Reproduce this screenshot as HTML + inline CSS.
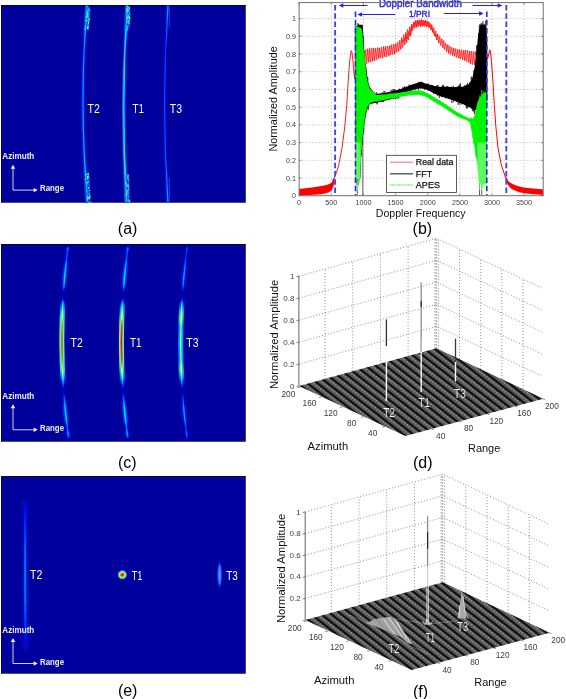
<!DOCTYPE html>
<html><head><meta charset="utf-8"><style>
html,body{margin:0;padding:0;background:#fff;}
svg{display:block;font-family:"Liberation Sans", sans-serif;will-change:transform;}
</style></head><body>
<svg width="566" height="699" viewBox="0 0 566 699">
<rect width="566" height="699" fill="#fff"/>
<defs><filter id="b1" x="-50%" y="-5%" width="200%" height="110%"><feGaussianBlur stdDeviation="0.6"/></filter><filter id="bs" x="-50%" y="-20%" width="200%" height="140%"><feGaussianBlur stdDeviation="0.4"/></filter><filter id="b2" x="-100%" y="-10%" width="300%" height="120%"><feGaussianBlur stdDeviation="1.2"/></filter><filter id="b3" x="-100%" y="-100%" width="300%" height="300%"><feGaussianBlur stdDeviation="1.0"/></filter><radialGradient id="spot"><stop offset="0" stop-color="#ff1000"/><stop offset="0.25" stop-color="#ff3000"/><stop offset="0.45" stop-color="#ffe000"/><stop offset="0.65" stop-color="#40ffb0"/><stop offset="0.85" stop-color="#0060ff"/><stop offset="1" stop-color="#0000a4" stop-opacity="0"/></radialGradient><radialGradient id="blob3"><stop offset="0" stop-color="#3aa0ff"/><stop offset="0.6" stop-color="#1040ff"/><stop offset="1" stop-color="#0000a4" stop-opacity="0"/></radialGradient><linearGradient id="e2" x1="0" y1="0" x2="0" y2="1"><stop offset="0" stop-color="#0010d0" stop-opacity="0"/><stop offset="0.15" stop-color="#1030f0"/><stop offset="0.5" stop-color="#2060ff"/><stop offset="0.8" stop-color="#1030e0"/><stop offset="1" stop-color="#0010d0" stop-opacity="0"/></linearGradient><linearGradient id="spR" x1="0" y1="0" x2="0" y2="1"><stop offset="0" stop-color="#0040ff"/><stop offset="0.12" stop-color="#00c0ff"/><stop offset="0.25" stop-color="#a0ff60"/><stop offset="0.35" stop-color="#ff8000"/><stop offset="0.5" stop-color="#e02000"/><stop offset="0.65" stop-color="#ff8000"/><stop offset="0.78" stop-color="#a0ff60"/><stop offset="0.9" stop-color="#00c0ff"/><stop offset="1" stop-color="#0040ff"/></linearGradient><linearGradient id="spG" x1="0" y1="0" x2="0" y2="1"><stop offset="0" stop-color="#0040ff"/><stop offset="0.2" stop-color="#00b0ff"/><stop offset="0.4" stop-color="#60ff90"/><stop offset="0.6" stop-color="#80ff70"/><stop offset="0.8" stop-color="#00b0ff"/><stop offset="1" stop-color="#0040ff"/></linearGradient><linearGradient id="seg" x1="0" y1="0" x2="0" y2="1"><stop offset="0" stop-color="#0030ff" stop-opacity="0.3"/><stop offset="0.5" stop-color="#1080ff"/><stop offset="1" stop-color="#0030ff" stop-opacity="0.3"/></linearGradient><pattern id="floor" patternUnits="userSpaceOnUse" width="12" height="6.2" patternTransform="rotate(38)"><rect width="12" height="6.2" fill="#0e0e0e"/><rect y="2.3" width="12" height="3.8" fill="#686868"/><rect x="0" y="2.8" width="1" height="1" fill="#b8b8b8"/><rect x="3" y="2.8" width="1" height="1" fill="#b8b8b8"/><rect x="6" y="2.8" width="1" height="1" fill="#b8b8b8"/><rect x="9" y="2.8" width="1" height="1" fill="#b8b8b8"/><rect x="1.5" y="4.4" width="1" height="1" fill="#262626"/><rect x="4.5" y="4.4" width="1" height="1" fill="#262626"/><rect x="7.5" y="4.4" width="1" height="1" fill="#262626"/><rect x="10.5" y="4.4" width="1" height="1" fill="#262626"/></pattern></defs>
<rect x="1" y="5" width="244.5" height="197.5" fill="#00009c"/>
<rect x="1" y="5" width="244.5" height="1" fill="#06063a"/>
<rect x="1" y="5" width="0.8" height="197.5" fill="#06064a"/>
<rect x="244.7" y="5" width="0.8" height="197.5" fill="#06064a"/>
<rect x="1" y="201.7" width="244.5" height="0.8" fill="#101050"/>
<linearGradient id="g1" gradientUnits="userSpaceOnUse" x1="0" y1="5.5" x2="0" y2="202"><stop offset="0.000" stop-color="#004bff" stop-opacity="0.90"/><stop offset="0.017" stop-color="#0047ff" stop-opacity="0.87"/><stop offset="0.033" stop-color="#0042ff" stop-opacity="0.84"/><stop offset="0.050" stop-color="#003dff" stop-opacity="0.81"/><stop offset="0.067" stop-color="#0039ff" stop-opacity="0.79"/><stop offset="0.083" stop-color="#0034ff" stop-opacity="0.76"/><stop offset="0.100" stop-color="#002fff" stop-opacity="0.73"/><stop offset="0.117" stop-color="#002bff" stop-opacity="0.70"/><stop offset="0.133" stop-color="#0026ff" stop-opacity="0.67"/><stop offset="0.150" stop-color="#0021ff" stop-opacity="0.65"/><stop offset="0.167" stop-color="#001cff" stop-opacity="0.62"/><stop offset="0.183" stop-color="#0017ff" stop-opacity="0.59"/><stop offset="0.200" stop-color="#0012ff" stop-opacity="0.56"/><stop offset="0.217" stop-color="#000dff" stop-opacity="0.53"/><stop offset="0.233" stop-color="#000bff" stop-opacity="0.52"/><stop offset="0.250" stop-color="#000dff" stop-opacity="0.53"/><stop offset="0.267" stop-color="#0010ff" stop-opacity="0.55"/><stop offset="0.283" stop-color="#0012ff" stop-opacity="0.56"/><stop offset="0.300" stop-color="#0015ff" stop-opacity="0.58"/><stop offset="0.317" stop-color="#0017ff" stop-opacity="0.59"/><stop offset="0.333" stop-color="#0019ff" stop-opacity="0.60"/><stop offset="0.350" stop-color="#0019ff" stop-opacity="0.60"/><stop offset="0.367" stop-color="#0019ff" stop-opacity="0.60"/><stop offset="0.383" stop-color="#0019ff" stop-opacity="0.60"/><stop offset="0.400" stop-color="#0019ff" stop-opacity="0.60"/><stop offset="0.417" stop-color="#0019ff" stop-opacity="0.60"/><stop offset="0.433" stop-color="#0019ff" stop-opacity="0.60"/><stop offset="0.450" stop-color="#0019ff" stop-opacity="0.60"/><stop offset="0.467" stop-color="#0019ff" stop-opacity="0.60"/><stop offset="0.483" stop-color="#0019ff" stop-opacity="0.60"/><stop offset="0.500" stop-color="#0019ff" stop-opacity="0.60"/><stop offset="0.517" stop-color="#0019ff" stop-opacity="0.60"/><stop offset="0.533" stop-color="#001aff" stop-opacity="0.60"/><stop offset="0.550" stop-color="#001aff" stop-opacity="0.61"/><stop offset="0.567" stop-color="#001bff" stop-opacity="0.61"/><stop offset="0.583" stop-color="#001bff" stop-opacity="0.61"/><stop offset="0.600" stop-color="#001bff" stop-opacity="0.61"/><stop offset="0.617" stop-color="#001cff" stop-opacity="0.62"/><stop offset="0.633" stop-color="#001cff" stop-opacity="0.62"/><stop offset="0.650" stop-color="#001cff" stop-opacity="0.62"/><stop offset="0.667" stop-color="#001dff" stop-opacity="0.62"/><stop offset="0.683" stop-color="#001dff" stop-opacity="0.62"/><stop offset="0.700" stop-color="#001dff" stop-opacity="0.63"/><stop offset="0.717" stop-color="#001eff" stop-opacity="0.63"/><stop offset="0.733" stop-color="#001eff" stop-opacity="0.63"/><stop offset="0.750" stop-color="#0020ff" stop-opacity="0.64"/><stop offset="0.767" stop-color="#0023ff" stop-opacity="0.66"/><stop offset="0.783" stop-color="#0026ff" stop-opacity="0.68"/><stop offset="0.800" stop-color="#0028ff" stop-opacity="0.69"/><stop offset="0.817" stop-color="#002bff" stop-opacity="0.71"/><stop offset="0.833" stop-color="#002eff" stop-opacity="0.72"/><stop offset="0.850" stop-color="#0030ff" stop-opacity="0.74"/><stop offset="0.867" stop-color="#0033ff" stop-opacity="0.75"/><stop offset="0.883" stop-color="#0036ff" stop-opacity="0.77"/><stop offset="0.900" stop-color="#0039ff" stop-opacity="0.79"/><stop offset="0.917" stop-color="#003dff" stop-opacity="0.81"/><stop offset="0.933" stop-color="#0040ff" stop-opacity="0.83"/><stop offset="0.950" stop-color="#0043ff" stop-opacity="0.85"/><stop offset="0.967" stop-color="#0046ff" stop-opacity="0.86"/><stop offset="0.983" stop-color="#0049ff" stop-opacity="0.88"/><stop offset="1.000" stop-color="#004cff" stop-opacity="0.90"/></linearGradient>
<linearGradient id="g2" gradientUnits="userSpaceOnUse" x1="0" y1="5.5" x2="0" y2="202"><stop offset="0.000" stop-color="#18ffe6" stop-opacity="1.00"/><stop offset="0.017" stop-color="#0efff0" stop-opacity="1.00"/><stop offset="0.033" stop-color="#05fff9" stop-opacity="1.00"/><stop offset="0.050" stop-color="#00fbff" stop-opacity="1.00"/><stop offset="0.067" stop-color="#00f1ff" stop-opacity="1.00"/><stop offset="0.083" stop-color="#00e8ff" stop-opacity="1.00"/><stop offset="0.100" stop-color="#00deff" stop-opacity="1.00"/><stop offset="0.117" stop-color="#00d5ff" stop-opacity="1.00"/><stop offset="0.133" stop-color="#00cbff" stop-opacity="1.00"/><stop offset="0.150" stop-color="#00c1ff" stop-opacity="1.00"/><stop offset="0.167" stop-color="#00b7ff" stop-opacity="1.00"/><stop offset="0.183" stop-color="#00adff" stop-opacity="1.00"/><stop offset="0.200" stop-color="#00a3ff" stop-opacity="1.00"/><stop offset="0.217" stop-color="#0099ff" stop-opacity="1.00"/><stop offset="0.233" stop-color="#0095ff" stop-opacity="1.00"/><stop offset="0.250" stop-color="#009aff" stop-opacity="1.00"/><stop offset="0.267" stop-color="#009fff" stop-opacity="1.00"/><stop offset="0.283" stop-color="#00a4ff" stop-opacity="1.00"/><stop offset="0.300" stop-color="#00aaff" stop-opacity="1.00"/><stop offset="0.317" stop-color="#00afff" stop-opacity="1.00"/><stop offset="0.333" stop-color="#00b2ff" stop-opacity="1.00"/><stop offset="0.350" stop-color="#00b2ff" stop-opacity="1.00"/><stop offset="0.367" stop-color="#00b2ff" stop-opacity="1.00"/><stop offset="0.383" stop-color="#00b2ff" stop-opacity="1.00"/><stop offset="0.400" stop-color="#00b2ff" stop-opacity="1.00"/><stop offset="0.417" stop-color="#00b2ff" stop-opacity="1.00"/><stop offset="0.433" stop-color="#00b2ff" stop-opacity="1.00"/><stop offset="0.450" stop-color="#00b2ff" stop-opacity="1.00"/><stop offset="0.467" stop-color="#00b2ff" stop-opacity="1.00"/><stop offset="0.483" stop-color="#00b2ff" stop-opacity="1.00"/><stop offset="0.500" stop-color="#00b2ff" stop-opacity="1.00"/><stop offset="0.517" stop-color="#00b3ff" stop-opacity="1.00"/><stop offset="0.533" stop-color="#00b4ff" stop-opacity="1.00"/><stop offset="0.550" stop-color="#00b4ff" stop-opacity="1.00"/><stop offset="0.567" stop-color="#00b5ff" stop-opacity="1.00"/><stop offset="0.583" stop-color="#00b6ff" stop-opacity="1.00"/><stop offset="0.600" stop-color="#00b6ff" stop-opacity="1.00"/><stop offset="0.617" stop-color="#00b7ff" stop-opacity="1.00"/><stop offset="0.633" stop-color="#00b8ff" stop-opacity="1.00"/><stop offset="0.650" stop-color="#00b9ff" stop-opacity="1.00"/><stop offset="0.667" stop-color="#00b9ff" stop-opacity="1.00"/><stop offset="0.683" stop-color="#00baff" stop-opacity="1.00"/><stop offset="0.700" stop-color="#00bbff" stop-opacity="1.00"/><stop offset="0.717" stop-color="#00bbff" stop-opacity="1.00"/><stop offset="0.733" stop-color="#00bcff" stop-opacity="1.00"/><stop offset="0.750" stop-color="#00c1ff" stop-opacity="1.00"/><stop offset="0.767" stop-color="#00c6ff" stop-opacity="1.00"/><stop offset="0.783" stop-color="#00ccff" stop-opacity="1.00"/><stop offset="0.800" stop-color="#00d1ff" stop-opacity="1.00"/><stop offset="0.817" stop-color="#00d6ff" stop-opacity="1.00"/><stop offset="0.833" stop-color="#00dcff" stop-opacity="1.00"/><stop offset="0.850" stop-color="#00e1ff" stop-opacity="1.00"/><stop offset="0.867" stop-color="#00e7ff" stop-opacity="1.00"/><stop offset="0.883" stop-color="#00edff" stop-opacity="1.00"/><stop offset="0.900" stop-color="#00f3ff" stop-opacity="1.00"/><stop offset="0.917" stop-color="#00f9ff" stop-opacity="1.00"/><stop offset="0.933" stop-color="#00fffe" stop-opacity="1.00"/><stop offset="0.950" stop-color="#06fff8" stop-opacity="1.00"/><stop offset="0.967" stop-color="#0dfff1" stop-opacity="1.00"/><stop offset="0.983" stop-color="#13ffeb" stop-opacity="1.00"/><stop offset="1.000" stop-color="#19ffe5" stop-opacity="1.00"/></linearGradient>
<path d="M87.1 5.5 Q78.65 103.75 87.6 202" stroke="url(#g1)" stroke-width="4.2" fill="none" filter="url(#b1)"/>
<path d="M87.1 5.5 Q78.65 103.75 87.6 202" stroke="url(#g2)" stroke-width="1.1" fill="none"/>
<path d="M89.3 8 L88.4 28" stroke="#10a0ff" stroke-width="1.1" opacity="0.8" filter="url(#b1)"/>
<path d="M88.7 178 L89.8 200" stroke="#10a0ff" stroke-width="1.1" opacity="0.8" filter="url(#b1)"/>
<g filter="url(#bs)">
<ellipse cx="87.1" cy="18.0" rx="3" ry="12.0" fill="#0a50ff" opacity="0.45"/>
<rect x="88.7" y="18.3" width="1.1" height="2.4" fill="#40ff90"/>
<rect x="87.1" y="13.5" width="1.1" height="2.2" fill="#70ffa0"/>
<rect x="87.3" y="15.8" width="1.1" height="2.1" fill="#40ff90"/>
<rect x="86.3" y="18.9" width="1.1" height="2.2" fill="#40ff90"/>
<rect x="87.2" y="13.3" width="1.1" height="1.6" fill="#20a0ff"/>
<rect x="86.6" y="10.9" width="1.1" height="2.1" fill="#40ff90"/>
<rect x="87.3" y="12.7" width="1.1" height="2.4" fill="#40ff90"/>
<rect x="86.8" y="23.4" width="1.1" height="1.4" fill="#20a0ff"/>
<rect x="89.4" y="9.9" width="1.1" height="1.2" fill="#30e0ff"/>
<rect x="87.8" y="21.0" width="1.1" height="1.9" fill="#00c0ff"/>
<rect x="84.5" y="28.0" width="1.1" height="1.7" fill="#20ffc0"/>
<rect x="88.4" y="7.5" width="1.1" height="2.3" fill="#00c0ff"/>
<rect x="85.9" y="20.2" width="1.1" height="1.8" fill="#30e0ff"/>
<rect x="87.9" y="18.3" width="1.1" height="1.2" fill="#20ffc0"/>
<rect x="87.1" y="25.7" width="1.1" height="1.3" fill="#20ffc0"/>
<rect x="85.3" y="25.3" width="1.1" height="1.1" fill="#20ffc0"/>
<rect x="87.8" y="26.5" width="1.1" height="1.7" fill="#20ffc0"/>
<rect x="85.5" y="12.6" width="1.1" height="2.0" fill="#20a0ff"/>
<rect x="87.9" y="23.3" width="1.1" height="1.3" fill="#20a0ff"/>
<rect x="87.9" y="21.3" width="1.1" height="2.4" fill="#70ffa0"/>
<rect x="87.6" y="9.6" width="1.1" height="1.6" fill="#30e0ff"/>
<rect x="85.0" y="20.1" width="1.1" height="2.0" fill="#20a0ff"/>
<rect x="87.5" y="28.1" width="1.1" height="2.0" fill="#00c0ff"/>
<rect x="88.5" y="11.9" width="1.1" height="1.3" fill="#20a0ff"/>
<rect x="84.8" y="26.0" width="1.1" height="1.2" fill="#20ffc0"/>
<rect x="86.5" y="15.0" width="1.1" height="2.0" fill="#20ffc0"/>
<rect x="87.2" y="10.3" width="1.1" height="1.4" fill="#00c0ff"/>
<rect x="85.6" y="16.1" width="1.1" height="1.9" fill="#40ff90"/>
<rect x="88.1" y="15.1" width="1.1" height="1.6" fill="#00c0ff"/>
<rect x="86.9" y="26.8" width="1.1" height="2.2" fill="#80ff70"/>
</g>
<g filter="url(#bs)">
<ellipse cx="87.3" cy="187.0" rx="3" ry="15.0" fill="#0a50ff" opacity="0.45"/>
<rect x="86.4" y="175.9" width="1.1" height="1.0" fill="#80ff70"/>
<rect x="88.1" y="176.4" width="1.1" height="1.1" fill="#80ff70"/>
<rect x="88.1" y="175.9" width="1.1" height="1.6" fill="#20a0ff"/>
<rect x="87.9" y="187.3" width="1.1" height="1.4" fill="#80ff70"/>
<rect x="87.5" y="176.1" width="1.1" height="1.8" fill="#70ffa0"/>
<rect x="88.2" y="196.5" width="1.1" height="2.5" fill="#80ff70"/>
<rect x="86.8" y="178.1" width="1.1" height="1.5" fill="#20ffc0"/>
<rect x="86.4" y="189.7" width="1.1" height="2.2" fill="#00c0ff"/>
<rect x="86.7" y="198.0" width="1.1" height="1.4" fill="#20ffc0"/>
<rect x="87.8" y="174.5" width="1.1" height="1.6" fill="#00c0ff"/>
<rect x="87.1" y="176.4" width="1.1" height="2.4" fill="#40ff90"/>
<rect x="84.8" y="178.5" width="1.1" height="1.3" fill="#70ffa0"/>
<rect x="86.8" y="182.4" width="1.1" height="2.0" fill="#30e0ff"/>
<rect x="85.0" y="182.2" width="1.1" height="1.2" fill="#20a0ff"/>
<rect x="88.3" y="201.9" width="1.1" height="1.1" fill="#20ffc0"/>
<rect x="87.6" y="173.0" width="1.1" height="1.9" fill="#80ff70"/>
<rect x="86.1" y="181.3" width="1.1" height="1.3" fill="#30e0ff"/>
<rect x="87.5" y="172.7" width="1.1" height="1.7" fill="#40ff90"/>
<rect x="87.3" y="175.8" width="1.1" height="1.1" fill="#20a0ff"/>
<rect x="89.0" y="190.0" width="1.1" height="1.0" fill="#70ffa0"/>
<rect x="86.8" y="196.2" width="1.1" height="1.0" fill="#80ff70"/>
<rect x="87.6" y="180.8" width="1.1" height="1.7" fill="#40ff90"/>
<rect x="87.0" y="197.6" width="1.1" height="1.4" fill="#70ffa0"/>
<rect x="90.1" y="201.3" width="1.1" height="1.5" fill="#30e0ff"/>
<rect x="86.4" y="185.1" width="1.1" height="1.1" fill="#20a0ff"/>
<rect x="85.9" y="174.0" width="1.1" height="1.4" fill="#20ffc0"/>
<rect x="89.0" y="197.4" width="1.1" height="2.0" fill="#30e0ff"/>
<rect x="88.8" y="192.8" width="1.1" height="2.4" fill="#00c0ff"/>
<rect x="86.9" y="176.5" width="1.1" height="1.7" fill="#70ffa0"/>
<rect x="89.4" y="195.6" width="1.1" height="2.1" fill="#70ffa0"/>
</g>
<linearGradient id="g3" gradientUnits="userSpaceOnUse" x1="0" y1="5.5" x2="0" y2="202"><stop offset="0.000" stop-color="#0065ff" stop-opacity="1.00"/><stop offset="0.017" stop-color="#0060ff" stop-opacity="1.00"/><stop offset="0.033" stop-color="#005bff" stop-opacity="0.99"/><stop offset="0.050" stop-color="#0057ff" stop-opacity="0.96"/><stop offset="0.067" stop-color="#0052ff" stop-opacity="0.94"/><stop offset="0.083" stop-color="#004dff" stop-opacity="0.91"/><stop offset="0.100" stop-color="#0049ff" stop-opacity="0.88"/><stop offset="0.117" stop-color="#0044ff" stop-opacity="0.85"/><stop offset="0.133" stop-color="#003fff" stop-opacity="0.82"/><stop offset="0.150" stop-color="#003aff" stop-opacity="0.80"/><stop offset="0.167" stop-color="#0035ff" stop-opacity="0.77"/><stop offset="0.183" stop-color="#0030ff" stop-opacity="0.74"/><stop offset="0.200" stop-color="#002bff" stop-opacity="0.71"/><stop offset="0.217" stop-color="#0026ff" stop-opacity="0.68"/><stop offset="0.233" stop-color="#0024ff" stop-opacity="0.67"/><stop offset="0.250" stop-color="#0027ff" stop-opacity="0.68"/><stop offset="0.267" stop-color="#0029ff" stop-opacity="0.70"/><stop offset="0.283" stop-color="#002cff" stop-opacity="0.71"/><stop offset="0.300" stop-color="#002eff" stop-opacity="0.73"/><stop offset="0.317" stop-color="#0031ff" stop-opacity="0.74"/><stop offset="0.333" stop-color="#0032ff" stop-opacity="0.75"/><stop offset="0.350" stop-color="#0032ff" stop-opacity="0.75"/><stop offset="0.367" stop-color="#0032ff" stop-opacity="0.75"/><stop offset="0.383" stop-color="#0032ff" stop-opacity="0.75"/><stop offset="0.400" stop-color="#0032ff" stop-opacity="0.75"/><stop offset="0.417" stop-color="#0032ff" stop-opacity="0.75"/><stop offset="0.433" stop-color="#0032ff" stop-opacity="0.75"/><stop offset="0.450" stop-color="#0032ff" stop-opacity="0.75"/><stop offset="0.467" stop-color="#0032ff" stop-opacity="0.75"/><stop offset="0.483" stop-color="#0032ff" stop-opacity="0.75"/><stop offset="0.500" stop-color="#0033ff" stop-opacity="0.75"/><stop offset="0.517" stop-color="#0033ff" stop-opacity="0.75"/><stop offset="0.533" stop-color="#0033ff" stop-opacity="0.75"/><stop offset="0.550" stop-color="#0034ff" stop-opacity="0.76"/><stop offset="0.567" stop-color="#0034ff" stop-opacity="0.76"/><stop offset="0.583" stop-color="#0034ff" stop-opacity="0.76"/><stop offset="0.600" stop-color="#0035ff" stop-opacity="0.76"/><stop offset="0.617" stop-color="#0035ff" stop-opacity="0.77"/><stop offset="0.633" stop-color="#0035ff" stop-opacity="0.77"/><stop offset="0.650" stop-color="#0036ff" stop-opacity="0.77"/><stop offset="0.667" stop-color="#0036ff" stop-opacity="0.77"/><stop offset="0.683" stop-color="#0036ff" stop-opacity="0.77"/><stop offset="0.700" stop-color="#0037ff" stop-opacity="0.78"/><stop offset="0.717" stop-color="#0037ff" stop-opacity="0.78"/><stop offset="0.733" stop-color="#0038ff" stop-opacity="0.78"/><stop offset="0.750" stop-color="#003aff" stop-opacity="0.79"/><stop offset="0.767" stop-color="#003dff" stop-opacity="0.81"/><stop offset="0.783" stop-color="#003fff" stop-opacity="0.83"/><stop offset="0.800" stop-color="#0042ff" stop-opacity="0.84"/><stop offset="0.817" stop-color="#0045ff" stop-opacity="0.86"/><stop offset="0.833" stop-color="#0047ff" stop-opacity="0.87"/><stop offset="0.850" stop-color="#004aff" stop-opacity="0.89"/><stop offset="0.867" stop-color="#004dff" stop-opacity="0.90"/><stop offset="0.883" stop-color="#0050ff" stop-opacity="0.92"/><stop offset="0.900" stop-color="#0053ff" stop-opacity="0.94"/><stop offset="0.917" stop-color="#0056ff" stop-opacity="0.96"/><stop offset="0.933" stop-color="#0059ff" stop-opacity="0.98"/><stop offset="0.950" stop-color="#005cff" stop-opacity="1.00"/><stop offset="0.967" stop-color="#005fff" stop-opacity="1.00"/><stop offset="0.983" stop-color="#0062ff" stop-opacity="1.00"/><stop offset="1.000" stop-color="#0065ff" stop-opacity="1.00"/></linearGradient>
<linearGradient id="g4" gradientUnits="userSpaceOnUse" x1="0" y1="5.5" x2="0" y2="202"><stop offset="0.000" stop-color="#4bffb3" stop-opacity="1.00"/><stop offset="0.017" stop-color="#41ffbd" stop-opacity="1.00"/><stop offset="0.033" stop-color="#38ffc6" stop-opacity="1.00"/><stop offset="0.050" stop-color="#2fffcf" stop-opacity="1.00"/><stop offset="0.067" stop-color="#25ffd9" stop-opacity="1.00"/><stop offset="0.083" stop-color="#1cffe2" stop-opacity="1.00"/><stop offset="0.100" stop-color="#12ffec" stop-opacity="1.00"/><stop offset="0.117" stop-color="#09fff5" stop-opacity="1.00"/><stop offset="0.133" stop-color="#00feff" stop-opacity="1.00"/><stop offset="0.150" stop-color="#00f4ff" stop-opacity="1.00"/><stop offset="0.167" stop-color="#00eaff" stop-opacity="1.00"/><stop offset="0.183" stop-color="#00e0ff" stop-opacity="1.00"/><stop offset="0.200" stop-color="#00d6ff" stop-opacity="1.00"/><stop offset="0.217" stop-color="#00ccff" stop-opacity="1.00"/><stop offset="0.233" stop-color="#00c8ff" stop-opacity="1.00"/><stop offset="0.250" stop-color="#00cdff" stop-opacity="1.00"/><stop offset="0.267" stop-color="#00d2ff" stop-opacity="1.00"/><stop offset="0.283" stop-color="#00d7ff" stop-opacity="1.00"/><stop offset="0.300" stop-color="#00ddff" stop-opacity="1.00"/><stop offset="0.317" stop-color="#00e2ff" stop-opacity="1.00"/><stop offset="0.333" stop-color="#00e5ff" stop-opacity="1.00"/><stop offset="0.350" stop-color="#00e5ff" stop-opacity="1.00"/><stop offset="0.367" stop-color="#00e5ff" stop-opacity="1.00"/><stop offset="0.383" stop-color="#00e5ff" stop-opacity="1.00"/><stop offset="0.400" stop-color="#00e5ff" stop-opacity="1.00"/><stop offset="0.417" stop-color="#00e5ff" stop-opacity="1.00"/><stop offset="0.433" stop-color="#00e5ff" stop-opacity="1.00"/><stop offset="0.450" stop-color="#00e5ff" stop-opacity="1.00"/><stop offset="0.467" stop-color="#00e5ff" stop-opacity="1.00"/><stop offset="0.483" stop-color="#00e5ff" stop-opacity="1.00"/><stop offset="0.500" stop-color="#00e5ff" stop-opacity="1.00"/><stop offset="0.517" stop-color="#00e6ff" stop-opacity="1.00"/><stop offset="0.533" stop-color="#00e7ff" stop-opacity="1.00"/><stop offset="0.550" stop-color="#00e7ff" stop-opacity="1.00"/><stop offset="0.567" stop-color="#00e8ff" stop-opacity="1.00"/><stop offset="0.583" stop-color="#00e9ff" stop-opacity="1.00"/><stop offset="0.600" stop-color="#00e9ff" stop-opacity="1.00"/><stop offset="0.617" stop-color="#00eaff" stop-opacity="1.00"/><stop offset="0.633" stop-color="#00ebff" stop-opacity="1.00"/><stop offset="0.650" stop-color="#00ecff" stop-opacity="1.00"/><stop offset="0.667" stop-color="#00ecff" stop-opacity="1.00"/><stop offset="0.683" stop-color="#00edff" stop-opacity="1.00"/><stop offset="0.700" stop-color="#00eeff" stop-opacity="1.00"/><stop offset="0.717" stop-color="#00eeff" stop-opacity="1.00"/><stop offset="0.733" stop-color="#00efff" stop-opacity="1.00"/><stop offset="0.750" stop-color="#00f4ff" stop-opacity="1.00"/><stop offset="0.767" stop-color="#00f9ff" stop-opacity="1.00"/><stop offset="0.783" stop-color="#00fffe" stop-opacity="1.00"/><stop offset="0.800" stop-color="#05fff9" stop-opacity="1.00"/><stop offset="0.817" stop-color="#0afff4" stop-opacity="1.00"/><stop offset="0.833" stop-color="#10ffee" stop-opacity="1.00"/><stop offset="0.850" stop-color="#15ffe9" stop-opacity="1.00"/><stop offset="0.867" stop-color="#1bffe3" stop-opacity="1.00"/><stop offset="0.883" stop-color="#21ffdd" stop-opacity="1.00"/><stop offset="0.900" stop-color="#27ffd7" stop-opacity="1.00"/><stop offset="0.917" stop-color="#2dffd1" stop-opacity="1.00"/><stop offset="0.933" stop-color="#33ffcb" stop-opacity="1.00"/><stop offset="0.950" stop-color="#39ffc5" stop-opacity="1.00"/><stop offset="0.967" stop-color="#40ffbe" stop-opacity="1.00"/><stop offset="0.983" stop-color="#46ffb8" stop-opacity="1.00"/><stop offset="1.000" stop-color="#4cffb2" stop-opacity="1.00"/></linearGradient>
<path d="M127.3 5.5 Q120.65 103.75 126.6 202" stroke="url(#g3)" stroke-width="4.2" fill="none" filter="url(#b1)"/>
<path d="M127.3 5.5 Q120.65 103.75 126.6 202" stroke="url(#g4)" stroke-width="1.3" fill="none"/>
<path d="M129.5 8 L128.9 28" stroke="#10a0ff" stroke-width="1.1" opacity="0.8" filter="url(#b1)"/>
<path d="M128.3 178 L128.79999999999998 200" stroke="#10a0ff" stroke-width="1.1" opacity="0.8" filter="url(#b1)"/>
<g filter="url(#bs)">
<ellipse cx="127.5" cy="18.0" rx="3" ry="12.0" fill="#0a50ff" opacity="0.45"/>
<rect x="127.0" y="12.3" width="1.1" height="1.1" fill="#30e0ff"/>
<rect x="128.1" y="20.4" width="1.1" height="1.3" fill="#20ffc0"/>
<rect x="127.2" y="7.3" width="1.1" height="1.8" fill="#70ffa0"/>
<rect x="127.7" y="9.6" width="1.1" height="2.0" fill="#80ff70"/>
<rect x="128.0" y="16.1" width="1.1" height="2.0" fill="#20a0ff"/>
<rect x="126.4" y="15.4" width="1.1" height="1.5" fill="#20a0ff"/>
<rect x="128.9" y="18.3" width="1.1" height="1.5" fill="#20a0ff"/>
<rect x="126.7" y="28.2" width="1.1" height="2.0" fill="#20ffc0"/>
<rect x="126.5" y="8.6" width="1.1" height="2.3" fill="#20a0ff"/>
<rect x="128.5" y="22.3" width="1.1" height="2.0" fill="#70ffa0"/>
<rect x="127.6" y="15.8" width="1.1" height="2.3" fill="#20ffc0"/>
<rect x="129.0" y="16.5" width="1.1" height="1.9" fill="#80ff70"/>
<rect x="126.9" y="25.9" width="1.1" height="1.5" fill="#40ff90"/>
<rect x="126.3" y="18.5" width="1.1" height="1.2" fill="#80ff70"/>
<rect x="128.9" y="6.9" width="1.1" height="2.3" fill="#80ff70"/>
<rect x="126.5" y="26.0" width="1.1" height="2.5" fill="#00c0ff"/>
<rect x="128.3" y="20.2" width="1.1" height="1.3" fill="#20ffc0"/>
<rect x="126.7" y="10.1" width="1.1" height="1.9" fill="#30e0ff"/>
<rect x="126.2" y="8.7" width="1.1" height="1.1" fill="#20ffc0"/>
<rect x="127.4" y="16.8" width="1.1" height="1.9" fill="#20ffc0"/>
<rect x="129.1" y="18.1" width="1.1" height="1.9" fill="#20ffc0"/>
<rect x="127.3" y="20.8" width="1.1" height="2.4" fill="#20ffc0"/>
<rect x="128.5" y="11.4" width="1.1" height="1.1" fill="#20a0ff"/>
<rect x="129.3" y="13.1" width="1.1" height="2.2" fill="#00c0ff"/>
<rect x="127.4" y="6.3" width="1.1" height="2.2" fill="#00c0ff"/>
<rect x="126.3" y="8.6" width="1.1" height="2.5" fill="#40ff90"/>
<rect x="126.8" y="16.7" width="1.1" height="1.6" fill="#70ffa0"/>
<rect x="127.7" y="14.8" width="1.1" height="1.0" fill="#40ff90"/>
<rect x="126.8" y="9.6" width="1.1" height="1.5" fill="#20ffc0"/>
<rect x="126.4" y="20.7" width="1.1" height="2.4" fill="#00c0ff"/>
</g>
<g filter="url(#bs)">
<ellipse cx="126.8" cy="187.0" rx="3" ry="15.0" fill="#0a50ff" opacity="0.45"/>
<rect x="128.0" y="179.5" width="1.1" height="1.3" fill="#40ff90"/>
<rect x="125.4" y="182.5" width="1.1" height="2.0" fill="#70ffa0"/>
<rect x="127.6" y="175.5" width="1.1" height="1.0" fill="#30e0ff"/>
<rect x="125.2" y="188.2" width="1.1" height="1.4" fill="#20a0ff"/>
<rect x="126.4" y="184.5" width="1.1" height="2.4" fill="#20ffc0"/>
<rect x="125.1" y="179.8" width="1.1" height="2.0" fill="#00c0ff"/>
<rect x="129.0" y="200.4" width="1.1" height="1.1" fill="#20a0ff"/>
<rect x="128.0" y="200.1" width="1.1" height="2.3" fill="#20a0ff"/>
<rect x="125.5" y="184.2" width="1.1" height="2.0" fill="#20a0ff"/>
<rect x="126.0" y="195.4" width="1.1" height="1.2" fill="#20ffc0"/>
<rect x="125.3" y="194.9" width="1.1" height="1.2" fill="#70ffa0"/>
<rect x="126.5" y="190.0" width="1.1" height="1.5" fill="#20a0ff"/>
<rect x="127.3" y="177.1" width="1.1" height="2.1" fill="#80ff70"/>
<rect x="127.6" y="190.0" width="1.1" height="1.8" fill="#20a0ff"/>
<rect x="128.3" y="188.7" width="1.1" height="1.3" fill="#20ffc0"/>
<rect x="129.1" y="200.4" width="1.1" height="1.7" fill="#70ffa0"/>
<rect x="128.1" y="196.0" width="1.1" height="1.1" fill="#00c0ff"/>
<rect x="127.3" y="198.9" width="1.1" height="1.7" fill="#20a0ff"/>
<rect x="127.4" y="192.6" width="1.1" height="1.4" fill="#30e0ff"/>
<rect x="128.6" y="199.6" width="1.1" height="1.2" fill="#00c0ff"/>
<rect x="127.5" y="184.1" width="1.1" height="2.4" fill="#30e0ff"/>
<rect x="127.8" y="179.2" width="1.1" height="2.0" fill="#20a0ff"/>
<rect x="125.0" y="174.0" width="1.1" height="1.1" fill="#40ff90"/>
<rect x="126.2" y="192.6" width="1.1" height="2.0" fill="#70ffa0"/>
<rect x="127.5" y="174.5" width="1.1" height="2.2" fill="#70ffa0"/>
<rect x="126.7" y="190.2" width="1.1" height="1.3" fill="#80ff70"/>
<rect x="126.0" y="200.3" width="1.1" height="1.2" fill="#00c0ff"/>
<rect x="126.9" y="175.3" width="1.1" height="2.3" fill="#00c0ff"/>
<rect x="127.7" y="185.8" width="1.1" height="1.8" fill="#70ffa0"/>
<rect x="126.3" y="195.3" width="1.1" height="1.2" fill="#20a0ff"/>
</g>
<linearGradient id="g5" gradientUnits="userSpaceOnUse" x1="0" y1="5.5" x2="0" y2="202"><stop offset="0.000" stop-color="#0028ff" stop-opacity="0.69"/><stop offset="0.017" stop-color="#0023ff" stop-opacity="0.66"/><stop offset="0.033" stop-color="#001eff" stop-opacity="0.63"/><stop offset="0.050" stop-color="#001aff" stop-opacity="0.60"/><stop offset="0.067" stop-color="#0015ff" stop-opacity="0.58"/><stop offset="0.083" stop-color="#0010ff" stop-opacity="0.55"/><stop offset="0.100" stop-color="#000cff" stop-opacity="0.52"/><stop offset="0.117" stop-color="#0007ff" stop-opacity="0.49"/><stop offset="0.133" stop-color="#0002ff" stop-opacity="0.46"/><stop offset="0.150" stop-color="#0000fc" stop-opacity="0.44"/><stop offset="0.167" stop-color="#0000f7" stop-opacity="0.41"/><stop offset="0.183" stop-color="#0000f2" stop-opacity="0.38"/><stop offset="0.200" stop-color="#0000ed" stop-opacity="0.35"/><stop offset="0.217" stop-color="#0000e8" stop-opacity="0.32"/><stop offset="0.233" stop-color="#0000e6" stop-opacity="0.31"/><stop offset="0.250" stop-color="#0000e9" stop-opacity="0.32"/><stop offset="0.267" stop-color="#0000eb" stop-opacity="0.34"/><stop offset="0.283" stop-color="#0000ee" stop-opacity="0.35"/><stop offset="0.300" stop-color="#0000f0" stop-opacity="0.37"/><stop offset="0.317" stop-color="#0000f3" stop-opacity="0.38"/><stop offset="0.333" stop-color="#0000f4" stop-opacity="0.39"/><stop offset="0.350" stop-color="#0000f4" stop-opacity="0.39"/><stop offset="0.367" stop-color="#0000f4" stop-opacity="0.39"/><stop offset="0.383" stop-color="#0000f4" stop-opacity="0.39"/><stop offset="0.400" stop-color="#0000f4" stop-opacity="0.39"/><stop offset="0.417" stop-color="#0000f4" stop-opacity="0.39"/><stop offset="0.433" stop-color="#0000f4" stop-opacity="0.39"/><stop offset="0.450" stop-color="#0000f4" stop-opacity="0.39"/><stop offset="0.467" stop-color="#0000f4" stop-opacity="0.39"/><stop offset="0.483" stop-color="#0000f4" stop-opacity="0.39"/><stop offset="0.500" stop-color="#0000f4" stop-opacity="0.39"/><stop offset="0.517" stop-color="#0000f5" stop-opacity="0.39"/><stop offset="0.533" stop-color="#0000f5" stop-opacity="0.39"/><stop offset="0.550" stop-color="#0000f5" stop-opacity="0.40"/><stop offset="0.567" stop-color="#0000f6" stop-opacity="0.40"/><stop offset="0.583" stop-color="#0000f6" stop-opacity="0.40"/><stop offset="0.600" stop-color="#0000f7" stop-opacity="0.40"/><stop offset="0.617" stop-color="#0000f7" stop-opacity="0.41"/><stop offset="0.633" stop-color="#0000f7" stop-opacity="0.41"/><stop offset="0.650" stop-color="#0000f8" stop-opacity="0.41"/><stop offset="0.667" stop-color="#0000f8" stop-opacity="0.41"/><stop offset="0.683" stop-color="#0000f8" stop-opacity="0.41"/><stop offset="0.700" stop-color="#0000f9" stop-opacity="0.42"/><stop offset="0.717" stop-color="#0000f9" stop-opacity="0.42"/><stop offset="0.733" stop-color="#0000f9" stop-opacity="0.42"/><stop offset="0.750" stop-color="#0000fc" stop-opacity="0.43"/><stop offset="0.767" stop-color="#0000fe" stop-opacity="0.45"/><stop offset="0.783" stop-color="#0002ff" stop-opacity="0.47"/><stop offset="0.800" stop-color="#0005ff" stop-opacity="0.48"/><stop offset="0.817" stop-color="#0007ff" stop-opacity="0.50"/><stop offset="0.833" stop-color="#000aff" stop-opacity="0.51"/><stop offset="0.850" stop-color="#000dff" stop-opacity="0.53"/><stop offset="0.867" stop-color="#0010ff" stop-opacity="0.54"/><stop offset="0.883" stop-color="#0013ff" stop-opacity="0.56"/><stop offset="0.900" stop-color="#0016ff" stop-opacity="0.58"/><stop offset="0.917" stop-color="#0019ff" stop-opacity="0.60"/><stop offset="0.933" stop-color="#001cff" stop-opacity="0.62"/><stop offset="0.950" stop-color="#001fff" stop-opacity="0.64"/><stop offset="0.967" stop-color="#0022ff" stop-opacity="0.65"/><stop offset="0.983" stop-color="#0025ff" stop-opacity="0.67"/><stop offset="1.000" stop-color="#0028ff" stop-opacity="0.69"/></linearGradient>
<linearGradient id="g6" gradientUnits="userSpaceOnUse" x1="0" y1="5.5" x2="0" y2="202"><stop offset="0.000" stop-color="#00cfff" stop-opacity="1.00"/><stop offset="0.017" stop-color="#00c6ff" stop-opacity="1.00"/><stop offset="0.033" stop-color="#00bcff" stop-opacity="1.00"/><stop offset="0.050" stop-color="#00b3ff" stop-opacity="1.00"/><stop offset="0.067" stop-color="#00aaff" stop-opacity="1.00"/><stop offset="0.083" stop-color="#00a0ff" stop-opacity="1.00"/><stop offset="0.100" stop-color="#0097ff" stop-opacity="1.00"/><stop offset="0.117" stop-color="#008eff" stop-opacity="1.00"/><stop offset="0.133" stop-color="#0084ff" stop-opacity="1.00"/><stop offset="0.150" stop-color="#007aff" stop-opacity="1.00"/><stop offset="0.167" stop-color="#0070ff" stop-opacity="1.00"/><stop offset="0.183" stop-color="#0066ff" stop-opacity="1.00"/><stop offset="0.200" stop-color="#005cff" stop-opacity="1.00"/><stop offset="0.217" stop-color="#0052ff" stop-opacity="1.00"/><stop offset="0.233" stop-color="#004eff" stop-opacity="1.00"/><stop offset="0.250" stop-color="#0053ff" stop-opacity="1.00"/><stop offset="0.267" stop-color="#0058ff" stop-opacity="1.00"/><stop offset="0.283" stop-color="#005dff" stop-opacity="1.00"/><stop offset="0.300" stop-color="#0062ff" stop-opacity="1.00"/><stop offset="0.317" stop-color="#0067ff" stop-opacity="1.00"/><stop offset="0.333" stop-color="#006bff" stop-opacity="1.00"/><stop offset="0.350" stop-color="#006bff" stop-opacity="1.00"/><stop offset="0.367" stop-color="#006bff" stop-opacity="1.00"/><stop offset="0.383" stop-color="#006bff" stop-opacity="1.00"/><stop offset="0.400" stop-color="#006bff" stop-opacity="1.00"/><stop offset="0.417" stop-color="#006bff" stop-opacity="1.00"/><stop offset="0.433" stop-color="#006bff" stop-opacity="1.00"/><stop offset="0.450" stop-color="#006bff" stop-opacity="1.00"/><stop offset="0.467" stop-color="#006bff" stop-opacity="1.00"/><stop offset="0.483" stop-color="#006bff" stop-opacity="1.00"/><stop offset="0.500" stop-color="#006bff" stop-opacity="1.00"/><stop offset="0.517" stop-color="#006bff" stop-opacity="1.00"/><stop offset="0.533" stop-color="#006cff" stop-opacity="1.00"/><stop offset="0.550" stop-color="#006dff" stop-opacity="1.00"/><stop offset="0.567" stop-color="#006eff" stop-opacity="1.00"/><stop offset="0.583" stop-color="#006eff" stop-opacity="1.00"/><stop offset="0.600" stop-color="#006fff" stop-opacity="1.00"/><stop offset="0.617" stop-color="#0070ff" stop-opacity="1.00"/><stop offset="0.633" stop-color="#0070ff" stop-opacity="1.00"/><stop offset="0.650" stop-color="#0071ff" stop-opacity="1.00"/><stop offset="0.667" stop-color="#0072ff" stop-opacity="1.00"/><stop offset="0.683" stop-color="#0073ff" stop-opacity="1.00"/><stop offset="0.700" stop-color="#0073ff" stop-opacity="1.00"/><stop offset="0.717" stop-color="#0074ff" stop-opacity="1.00"/><stop offset="0.733" stop-color="#0075ff" stop-opacity="1.00"/><stop offset="0.750" stop-color="#0079ff" stop-opacity="1.00"/><stop offset="0.767" stop-color="#007fff" stop-opacity="1.00"/><stop offset="0.783" stop-color="#0084ff" stop-opacity="1.00"/><stop offset="0.800" stop-color="#008aff" stop-opacity="1.00"/><stop offset="0.817" stop-color="#008fff" stop-opacity="1.00"/><stop offset="0.833" stop-color="#0094ff" stop-opacity="1.00"/><stop offset="0.850" stop-color="#009aff" stop-opacity="1.00"/><stop offset="0.867" stop-color="#009fff" stop-opacity="1.00"/><stop offset="0.883" stop-color="#00a5ff" stop-opacity="1.00"/><stop offset="0.900" stop-color="#00abff" stop-opacity="1.00"/><stop offset="0.917" stop-color="#00b2ff" stop-opacity="1.00"/><stop offset="0.933" stop-color="#00b8ff" stop-opacity="1.00"/><stop offset="0.950" stop-color="#00beff" stop-opacity="1.00"/><stop offset="0.967" stop-color="#00c4ff" stop-opacity="1.00"/><stop offset="0.983" stop-color="#00caff" stop-opacity="1.00"/><stop offset="1.000" stop-color="#00d1ff" stop-opacity="1.00"/></linearGradient>
<path d="M168 5.5 Q161.00 103.75 168 202" stroke="url(#g5)" stroke-width="4.2" fill="none" filter="url(#b1)"/>
<path d="M168 5.5 Q161.00 103.75 168 202" stroke="url(#g6)" stroke-width="0.9" fill="none"/>
<path d="M169.5 8 L169.8 28 M169.5 178 L169.8 198" stroke="#1060ff" stroke-width="1.4" opacity="0.6" filter="url(#b1)"/>
<path d="M125.4 35 Q120.4 103 125.2 185" stroke="#b0a888" stroke-width="0.7" fill="none" opacity="0.8"/>
<text x="87.6" y="112.8" font-size="12.8" fill="#ffffff" textLength="12.2" lengthAdjust="spacingAndGlyphs">T2</text>
<text x="132.5" y="112.8" font-size="12.8" fill="#ffffff" textLength="11.5" lengthAdjust="spacingAndGlyphs">T1</text>
<text x="169.8" y="112.8" font-size="12.8" fill="#ffffff" textLength="12.2" lengthAdjust="spacingAndGlyphs">T3</text>
<text x="2.3" y="159.2" font-size="8.2" font-weight="bold" fill="#f0f0ff" textLength="32" lengthAdjust="spacingAndGlyphs">Azimuth</text>
<path d="M13 190.1 V167.8 M13 190.1 H35" stroke="#e8e8f8" stroke-width="0.9" fill="none"/>
<path d="M13 164.8 l-2.2 4 h4.4 z M37.7 190.1 l-4 -2.2 v4.4 z" fill="#f0f0ff"/>
<text x="40" y="191.2" font-size="8.2" font-weight="bold" fill="#f0f0ff" textLength="24" lengthAdjust="spacingAndGlyphs">Range</text>
<rect x="1" y="244" width="244.5" height="197.5" fill="#00009c"/>
<rect x="1" y="244" width="244.5" height="1" fill="#06063a"/>
<rect x="1" y="244" width="0.8" height="197.5" fill="#06064a"/>
<rect x="244.7" y="244" width="0.8" height="197.5" fill="#06064a"/>
<rect x="1" y="440.7" width="244.5" height="0.8" fill="#101050"/>
<linearGradient id="g7" gradientUnits="userSpaceOnUse" x1="0" y1="245" x2="0" y2="440"><stop offset="0.000" stop-color="#00009b" stop-opacity="0.00"/><stop offset="0.017" stop-color="#0010ff" stop-opacity="0.55"/><stop offset="0.033" stop-color="#0000f3" stop-opacity="0.38"/><stop offset="0.050" stop-color="#0000ef" stop-opacity="0.36"/><stop offset="0.067" stop-color="#0000ef" stop-opacity="0.36"/><stop offset="0.083" stop-color="#0007ff" stop-opacity="0.49"/><stop offset="0.100" stop-color="#001eff" stop-opacity="0.63"/><stop offset="0.117" stop-color="#002cff" stop-opacity="0.71"/><stop offset="0.133" stop-color="#0032ff" stop-opacity="0.74"/><stop offset="0.150" stop-color="#0038ff" stop-opacity="0.78"/><stop offset="0.167" stop-color="#003eff" stop-opacity="0.82"/><stop offset="0.183" stop-color="#0033ff" stop-opacity="0.75"/><stop offset="0.200" stop-color="#0025ff" stop-opacity="0.67"/><stop offset="0.217" stop-color="#0008ff" stop-opacity="0.50"/><stop offset="0.233" stop-color="#0000d0" stop-opacity="0.18"/><stop offset="0.250" stop-color="#0000b4" stop-opacity="0.01"/><stop offset="0.267" stop-color="#0000ae" stop-opacity="0.00"/><stop offset="0.283" stop-color="#0000e8" stop-opacity="0.32"/><stop offset="0.300" stop-color="#003bff" stop-opacity="0.80"/><stop offset="0.317" stop-color="#006aff" stop-opacity="1.00"/><stop offset="0.333" stop-color="#0099ff" stop-opacity="1.00"/><stop offset="0.350" stop-color="#00bbff" stop-opacity="1.00"/><stop offset="0.367" stop-color="#00ddff" stop-opacity="1.00"/><stop offset="0.383" stop-color="#00f8ff" stop-opacity="1.00"/><stop offset="0.400" stop-color="#0fffef" stop-opacity="1.00"/><stop offset="0.417" stop-color="#23ffdb" stop-opacity="1.00"/><stop offset="0.433" stop-color="#29ffd5" stop-opacity="1.00"/><stop offset="0.450" stop-color="#30ffce" stop-opacity="1.00"/><stop offset="0.467" stop-color="#36ffc8" stop-opacity="1.00"/><stop offset="0.483" stop-color="#3cffc2" stop-opacity="1.00"/><stop offset="0.500" stop-color="#41ffbd" stop-opacity="1.00"/><stop offset="0.517" stop-color="#3bffc3" stop-opacity="1.00"/><stop offset="0.533" stop-color="#36ffc8" stop-opacity="1.00"/><stop offset="0.550" stop-color="#30ffce" stop-opacity="1.00"/><stop offset="0.567" stop-color="#2affd4" stop-opacity="1.00"/><stop offset="0.583" stop-color="#25ffd9" stop-opacity="1.00"/><stop offset="0.600" stop-color="#14ffea" stop-opacity="1.00"/><stop offset="0.617" stop-color="#00fdff" stop-opacity="1.00"/><stop offset="0.633" stop-color="#00e6ff" stop-opacity="1.00"/><stop offset="0.650" stop-color="#00c3ff" stop-opacity="1.00"/><stop offset="0.667" stop-color="#0096ff" stop-opacity="1.00"/><stop offset="0.683" stop-color="#0067ff" stop-opacity="1.00"/><stop offset="0.700" stop-color="#002eff" stop-opacity="0.72"/><stop offset="0.717" stop-color="#0000f4" stop-opacity="0.39"/><stop offset="0.733" stop-color="#0000ce" stop-opacity="0.16"/><stop offset="0.750" stop-color="#0000af" stop-opacity="0.00"/><stop offset="0.767" stop-color="#0000d3" stop-opacity="0.20"/><stop offset="0.783" stop-color="#0000f5" stop-opacity="0.39"/><stop offset="0.800" stop-color="#000dff" stop-opacity="0.53"/><stop offset="0.817" stop-color="#0024ff" stop-opacity="0.66"/><stop offset="0.833" stop-color="#003bff" stop-opacity="0.80"/><stop offset="0.850" stop-color="#003dff" stop-opacity="0.81"/><stop offset="0.867" stop-color="#003cff" stop-opacity="0.81"/><stop offset="0.883" stop-color="#003aff" stop-opacity="0.80"/><stop offset="0.900" stop-color="#0035ff" stop-opacity="0.76"/><stop offset="0.917" stop-color="#0017ff" stop-opacity="0.59"/><stop offset="0.933" stop-color="#0000f8" stop-opacity="0.41"/><stop offset="0.950" stop-color="#0005ff" stop-opacity="0.48"/><stop offset="0.967" stop-color="#0024ff" stop-opacity="0.66"/><stop offset="0.983" stop-color="#0002ff" stop-opacity="0.46"/><stop offset="1.000" stop-color="#00009b" stop-opacity="0.00"/></linearGradient>
<linearGradient id="g8" gradientUnits="userSpaceOnUse" x1="0" y1="245" x2="0" y2="440"><stop offset="0.000" stop-color="#0000b2" stop-opacity="0.00"/><stop offset="0.017" stop-color="#0085ff" stop-opacity="1.00"/><stop offset="0.033" stop-color="#0054ff" stop-opacity="1.00"/><stop offset="0.050" stop-color="#004cff" stop-opacity="1.00"/><stop offset="0.067" stop-color="#004cff" stop-opacity="1.00"/><stop offset="0.083" stop-color="#0075ff" stop-opacity="1.00"/><stop offset="0.100" stop-color="#009fff" stop-opacity="1.00"/><stop offset="0.117" stop-color="#00b8ff" stop-opacity="1.00"/><stop offset="0.133" stop-color="#00c3ff" stop-opacity="1.00"/><stop offset="0.150" stop-color="#00ceff" stop-opacity="1.00"/><stop offset="0.167" stop-color="#00d9ff" stop-opacity="1.00"/><stop offset="0.183" stop-color="#00c6ff" stop-opacity="1.00"/><stop offset="0.200" stop-color="#00adff" stop-opacity="1.00"/><stop offset="0.217" stop-color="#0077ff" stop-opacity="1.00"/><stop offset="0.233" stop-color="#0014ff" stop-opacity="0.76"/><stop offset="0.250" stop-color="#0000df" stop-opacity="0.35"/><stop offset="0.267" stop-color="#0000d4" stop-opacity="0.27"/><stop offset="0.283" stop-color="#0040ff" stop-opacity="1.00"/><stop offset="0.300" stop-color="#00d4ff" stop-opacity="1.00"/><stop offset="0.317" stop-color="#2affd4" stop-opacity="1.00"/><stop offset="0.333" stop-color="#7fff7f" stop-opacity="1.00"/><stop offset="0.350" stop-color="#bdff41" stop-opacity="1.00"/><stop offset="0.367" stop-color="#fbff03" stop-opacity="1.00"/><stop offset="0.383" stop-color="#ffd000" stop-opacity="1.00"/><stop offset="0.400" stop-color="#ffa900" stop-opacity="1.00"/><stop offset="0.417" stop-color="#ff8400" stop-opacity="1.00"/><stop offset="0.433" stop-color="#ff7900" stop-opacity="1.00"/><stop offset="0.450" stop-color="#ff6d00" stop-opacity="1.00"/><stop offset="0.467" stop-color="#ff6100" stop-opacity="1.00"/><stop offset="0.483" stop-color="#ff5600" stop-opacity="1.00"/><stop offset="0.500" stop-color="#ff4e00" stop-opacity="1.00"/><stop offset="0.517" stop-color="#ff5800" stop-opacity="1.00"/><stop offset="0.533" stop-color="#ff6200" stop-opacity="1.00"/><stop offset="0.550" stop-color="#ff6d00" stop-opacity="1.00"/><stop offset="0.567" stop-color="#ff7700" stop-opacity="1.00"/><stop offset="0.583" stop-color="#ff8100" stop-opacity="1.00"/><stop offset="0.600" stop-color="#ff9e00" stop-opacity="1.00"/><stop offset="0.617" stop-color="#ffc800" stop-opacity="1.00"/><stop offset="0.633" stop-color="#fff100" stop-opacity="1.00"/><stop offset="0.650" stop-color="#cdff31" stop-opacity="1.00"/><stop offset="0.667" stop-color="#7aff84" stop-opacity="1.00"/><stop offset="0.683" stop-color="#25ffd9" stop-opacity="1.00"/><stop offset="0.700" stop-color="#00bcff" stop-opacity="1.00"/><stop offset="0.717" stop-color="#0054ff" stop-opacity="1.00"/><stop offset="0.733" stop-color="#000fff" stop-opacity="0.72"/><stop offset="0.750" stop-color="#0000d6" stop-opacity="0.28"/><stop offset="0.767" stop-color="#0019ff" stop-opacity="0.80"/><stop offset="0.783" stop-color="#0056ff" stop-opacity="1.00"/><stop offset="0.800" stop-color="#0080ff" stop-opacity="1.00"/><stop offset="0.817" stop-color="#00aaff" stop-opacity="1.00"/><stop offset="0.833" stop-color="#00d4ff" stop-opacity="1.00"/><stop offset="0.850" stop-color="#00d8ff" stop-opacity="1.00"/><stop offset="0.867" stop-color="#00d6ff" stop-opacity="1.00"/><stop offset="0.883" stop-color="#00d3ff" stop-opacity="1.00"/><stop offset="0.900" stop-color="#00c8ff" stop-opacity="1.00"/><stop offset="0.917" stop-color="#0092ff" stop-opacity="1.00"/><stop offset="0.933" stop-color="#005dff" stop-opacity="1.00"/><stop offset="0.950" stop-color="#0072ff" stop-opacity="1.00"/><stop offset="0.967" stop-color="#00a9ff" stop-opacity="1.00"/><stop offset="0.983" stop-color="#006cff" stop-opacity="1.00"/><stop offset="1.000" stop-color="#0000b2" stop-opacity="0.00"/></linearGradient>
<path d="M68.3 245 Q55.00 342.5 68.9 440" stroke="url(#g7)" stroke-width="5" fill="none" filter="url(#b1)"/>
<path d="M68.3 245 Q55.00 342.5 68.9 440" stroke="url(#g8)" stroke-width="1.5" fill="none"/>
<linearGradient id="g9" gradientUnits="userSpaceOnUse" x1="0" y1="245" x2="0" y2="440"><stop offset="0.000" stop-color="#0000b4" stop-opacity="0.00"/><stop offset="0.017" stop-color="#008dff" stop-opacity="0.00"/><stop offset="0.033" stop-color="#005aff" stop-opacity="0.00"/><stop offset="0.050" stop-color="#0052ff" stop-opacity="0.00"/><stop offset="0.067" stop-color="#0052ff" stop-opacity="0.00"/><stop offset="0.083" stop-color="#007dff" stop-opacity="0.00"/><stop offset="0.100" stop-color="#00a7ff" stop-opacity="0.00"/><stop offset="0.117" stop-color="#00c1ff" stop-opacity="0.00"/><stop offset="0.133" stop-color="#00cdff" stop-opacity="0.00"/><stop offset="0.150" stop-color="#00d8ff" stop-opacity="0.00"/><stop offset="0.167" stop-color="#00e3ff" stop-opacity="0.00"/><stop offset="0.183" stop-color="#00d0ff" stop-opacity="0.00"/><stop offset="0.200" stop-color="#00b6ff" stop-opacity="0.00"/><stop offset="0.217" stop-color="#007fff" stop-opacity="0.00"/><stop offset="0.233" stop-color="#0018ff" stop-opacity="0.00"/><stop offset="0.250" stop-color="#0000e2" stop-opacity="0.00"/><stop offset="0.267" stop-color="#0000d7" stop-opacity="0.00"/><stop offset="0.283" stop-color="#0046ff" stop-opacity="0.00"/><stop offset="0.300" stop-color="#00deff" stop-opacity="0.00"/><stop offset="0.317" stop-color="#36ffc8" stop-opacity="0.00"/><stop offset="0.333" stop-color="#8eff70" stop-opacity="0.00"/><stop offset="0.350" stop-color="#ceff30" stop-opacity="1.00"/><stop offset="0.367" stop-color="#ffef00" stop-opacity="1.00"/><stop offset="0.383" stop-color="#ffbc00" stop-opacity="1.00"/><stop offset="0.400" stop-color="#ff9300" stop-opacity="1.00"/><stop offset="0.417" stop-color="#ff6d00" stop-opacity="1.00"/><stop offset="0.433" stop-color="#ff6100" stop-opacity="1.00"/><stop offset="0.450" stop-color="#ff5600" stop-opacity="1.00"/><stop offset="0.467" stop-color="#ff4a00" stop-opacity="1.00"/><stop offset="0.483" stop-color="#ff3e00" stop-opacity="1.00"/><stop offset="0.500" stop-color="#ff3500" stop-opacity="1.00"/><stop offset="0.517" stop-color="#ff4000" stop-opacity="1.00"/><stop offset="0.533" stop-color="#ff4a00" stop-opacity="1.00"/><stop offset="0.550" stop-color="#ff5500" stop-opacity="1.00"/><stop offset="0.567" stop-color="#ff6000" stop-opacity="1.00"/><stop offset="0.583" stop-color="#ff6a00" stop-opacity="1.00"/><stop offset="0.600" stop-color="#ff8800" stop-opacity="1.00"/><stop offset="0.617" stop-color="#ffb300" stop-opacity="1.00"/><stop offset="0.633" stop-color="#ffdd00" stop-opacity="1.00"/><stop offset="0.650" stop-color="#deff20" stop-opacity="1.00"/><stop offset="0.667" stop-color="#89ff75" stop-opacity="0.00"/><stop offset="0.683" stop-color="#32ffcc" stop-opacity="0.00"/><stop offset="0.700" stop-color="#00c6ff" stop-opacity="0.00"/><stop offset="0.717" stop-color="#005aff" stop-opacity="0.00"/><stop offset="0.733" stop-color="#0013ff" stop-opacity="0.00"/><stop offset="0.750" stop-color="#0000d8" stop-opacity="0.00"/><stop offset="0.767" stop-color="#001eff" stop-opacity="0.00"/><stop offset="0.783" stop-color="#005cff" stop-opacity="0.00"/><stop offset="0.800" stop-color="#0088ff" stop-opacity="0.00"/><stop offset="0.817" stop-color="#00b3ff" stop-opacity="0.00"/><stop offset="0.833" stop-color="#00dfff" stop-opacity="0.00"/><stop offset="0.850" stop-color="#00e3ff" stop-opacity="0.00"/><stop offset="0.867" stop-color="#00e0ff" stop-opacity="0.00"/><stop offset="0.883" stop-color="#00ddff" stop-opacity="0.00"/><stop offset="0.900" stop-color="#00d2ff" stop-opacity="0.00"/><stop offset="0.917" stop-color="#009bff" stop-opacity="0.00"/><stop offset="0.933" stop-color="#0063ff" stop-opacity="0.00"/><stop offset="0.950" stop-color="#007aff" stop-opacity="0.00"/><stop offset="0.967" stop-color="#00b2ff" stop-opacity="0.00"/><stop offset="0.983" stop-color="#0073ff" stop-opacity="0.00"/><stop offset="1.000" stop-color="#0000b4" stop-opacity="0.00"/></linearGradient>
<path d="M68.3 245 Q55.00 342.5 68.9 440" stroke="url(#g9)" stroke-width="0.8" fill="none"/>
<linearGradient id="g10" gradientUnits="userSpaceOnUse" x1="0" y1="245" x2="0" y2="440"><stop offset="0.000" stop-color="#00009b" stop-opacity="0.00"/><stop offset="0.017" stop-color="#0010ff" stop-opacity="0.55"/><stop offset="0.033" stop-color="#0000f3" stop-opacity="0.38"/><stop offset="0.050" stop-color="#0000ef" stop-opacity="0.36"/><stop offset="0.067" stop-color="#0000ef" stop-opacity="0.36"/><stop offset="0.083" stop-color="#0007ff" stop-opacity="0.49"/><stop offset="0.100" stop-color="#001eff" stop-opacity="0.63"/><stop offset="0.117" stop-color="#002cff" stop-opacity="0.71"/><stop offset="0.133" stop-color="#0032ff" stop-opacity="0.74"/><stop offset="0.150" stop-color="#0038ff" stop-opacity="0.78"/><stop offset="0.167" stop-color="#003eff" stop-opacity="0.82"/><stop offset="0.183" stop-color="#0033ff" stop-opacity="0.75"/><stop offset="0.200" stop-color="#0025ff" stop-opacity="0.67"/><stop offset="0.217" stop-color="#0008ff" stop-opacity="0.50"/><stop offset="0.233" stop-color="#0000d0" stop-opacity="0.18"/><stop offset="0.250" stop-color="#0000b4" stop-opacity="0.01"/><stop offset="0.267" stop-color="#0000ae" stop-opacity="0.00"/><stop offset="0.283" stop-color="#0000e8" stop-opacity="0.32"/><stop offset="0.300" stop-color="#003bff" stop-opacity="0.80"/><stop offset="0.317" stop-color="#006aff" stop-opacity="1.00"/><stop offset="0.333" stop-color="#0099ff" stop-opacity="1.00"/><stop offset="0.350" stop-color="#00bbff" stop-opacity="1.00"/><stop offset="0.367" stop-color="#00ddff" stop-opacity="1.00"/><stop offset="0.383" stop-color="#00fffe" stop-opacity="1.00"/><stop offset="0.400" stop-color="#22ffdc" stop-opacity="1.00"/><stop offset="0.417" stop-color="#42ffbc" stop-opacity="1.00"/><stop offset="0.433" stop-color="#49ffb5" stop-opacity="1.00"/><stop offset="0.450" stop-color="#50ffae" stop-opacity="1.00"/><stop offset="0.467" stop-color="#57ffa7" stop-opacity="1.00"/><stop offset="0.483" stop-color="#5effa0" stop-opacity="1.00"/><stop offset="0.500" stop-color="#63ff9b" stop-opacity="1.00"/><stop offset="0.517" stop-color="#5cffa2" stop-opacity="1.00"/><stop offset="0.533" stop-color="#56ffa8" stop-opacity="1.00"/><stop offset="0.550" stop-color="#50ffae" stop-opacity="1.00"/><stop offset="0.567" stop-color="#4affb4" stop-opacity="1.00"/><stop offset="0.583" stop-color="#44ffba" stop-opacity="1.00"/><stop offset="0.600" stop-color="#2effd0" stop-opacity="1.00"/><stop offset="0.617" stop-color="#0dfff1" stop-opacity="1.00"/><stop offset="0.633" stop-color="#00ebff" stop-opacity="1.00"/><stop offset="0.650" stop-color="#00c3ff" stop-opacity="1.00"/><stop offset="0.667" stop-color="#0096ff" stop-opacity="1.00"/><stop offset="0.683" stop-color="#0067ff" stop-opacity="1.00"/><stop offset="0.700" stop-color="#002eff" stop-opacity="0.72"/><stop offset="0.717" stop-color="#0000f4" stop-opacity="0.39"/><stop offset="0.733" stop-color="#0000ce" stop-opacity="0.16"/><stop offset="0.750" stop-color="#0000af" stop-opacity="0.00"/><stop offset="0.767" stop-color="#0000d3" stop-opacity="0.20"/><stop offset="0.783" stop-color="#0000f5" stop-opacity="0.39"/><stop offset="0.800" stop-color="#000dff" stop-opacity="0.53"/><stop offset="0.817" stop-color="#0024ff" stop-opacity="0.66"/><stop offset="0.833" stop-color="#003bff" stop-opacity="0.80"/><stop offset="0.850" stop-color="#003dff" stop-opacity="0.81"/><stop offset="0.867" stop-color="#003cff" stop-opacity="0.81"/><stop offset="0.883" stop-color="#003aff" stop-opacity="0.80"/><stop offset="0.900" stop-color="#0035ff" stop-opacity="0.76"/><stop offset="0.917" stop-color="#0017ff" stop-opacity="0.59"/><stop offset="0.933" stop-color="#0000f8" stop-opacity="0.41"/><stop offset="0.950" stop-color="#0005ff" stop-opacity="0.48"/><stop offset="0.967" stop-color="#0024ff" stop-opacity="0.66"/><stop offset="0.983" stop-color="#0002ff" stop-opacity="0.46"/><stop offset="1.000" stop-color="#00009b" stop-opacity="0.00"/></linearGradient>
<linearGradient id="g11" gradientUnits="userSpaceOnUse" x1="0" y1="245" x2="0" y2="440"><stop offset="0.000" stop-color="#0000b2" stop-opacity="0.00"/><stop offset="0.017" stop-color="#0085ff" stop-opacity="1.00"/><stop offset="0.033" stop-color="#0054ff" stop-opacity="1.00"/><stop offset="0.050" stop-color="#004cff" stop-opacity="1.00"/><stop offset="0.067" stop-color="#004cff" stop-opacity="1.00"/><stop offset="0.083" stop-color="#0075ff" stop-opacity="1.00"/><stop offset="0.100" stop-color="#009fff" stop-opacity="1.00"/><stop offset="0.117" stop-color="#00b8ff" stop-opacity="1.00"/><stop offset="0.133" stop-color="#00c3ff" stop-opacity="1.00"/><stop offset="0.150" stop-color="#00ceff" stop-opacity="1.00"/><stop offset="0.167" stop-color="#00d9ff" stop-opacity="1.00"/><stop offset="0.183" stop-color="#00c6ff" stop-opacity="1.00"/><stop offset="0.200" stop-color="#00adff" stop-opacity="1.00"/><stop offset="0.217" stop-color="#0077ff" stop-opacity="1.00"/><stop offset="0.233" stop-color="#0014ff" stop-opacity="0.76"/><stop offset="0.250" stop-color="#0000df" stop-opacity="0.35"/><stop offset="0.267" stop-color="#0000d4" stop-opacity="0.27"/><stop offset="0.283" stop-color="#0040ff" stop-opacity="1.00"/><stop offset="0.300" stop-color="#00d4ff" stop-opacity="1.00"/><stop offset="0.317" stop-color="#2affd4" stop-opacity="1.00"/><stop offset="0.333" stop-color="#7fff7f" stop-opacity="1.00"/><stop offset="0.350" stop-color="#bdff41" stop-opacity="1.00"/><stop offset="0.367" stop-color="#fbff03" stop-opacity="1.00"/><stop offset="0.383" stop-color="#ffc400" stop-opacity="1.00"/><stop offset="0.400" stop-color="#ff8600" stop-opacity="1.00"/><stop offset="0.417" stop-color="#ff4b00" stop-opacity="1.00"/><stop offset="0.433" stop-color="#ff3f00" stop-opacity="1.00"/><stop offset="0.450" stop-color="#ff3200" stop-opacity="1.00"/><stop offset="0.467" stop-color="#ff2600" stop-opacity="1.00"/><stop offset="0.483" stop-color="#ff1900" stop-opacity="1.00"/><stop offset="0.500" stop-color="#ff1100" stop-opacity="1.00"/><stop offset="0.517" stop-color="#ff1c00" stop-opacity="1.00"/><stop offset="0.533" stop-color="#ff2700" stop-opacity="1.00"/><stop offset="0.550" stop-color="#ff3200" stop-opacity="1.00"/><stop offset="0.567" stop-color="#ff3d00" stop-opacity="1.00"/><stop offset="0.583" stop-color="#ff4800" stop-opacity="1.00"/><stop offset="0.600" stop-color="#ff7100" stop-opacity="1.00"/><stop offset="0.617" stop-color="#ffac00" stop-opacity="1.00"/><stop offset="0.633" stop-color="#ffe800" stop-opacity="1.00"/><stop offset="0.650" stop-color="#cdff31" stop-opacity="1.00"/><stop offset="0.667" stop-color="#7aff84" stop-opacity="1.00"/><stop offset="0.683" stop-color="#25ffd9" stop-opacity="1.00"/><stop offset="0.700" stop-color="#00bcff" stop-opacity="1.00"/><stop offset="0.717" stop-color="#0054ff" stop-opacity="1.00"/><stop offset="0.733" stop-color="#000fff" stop-opacity="0.72"/><stop offset="0.750" stop-color="#0000d6" stop-opacity="0.28"/><stop offset="0.767" stop-color="#0019ff" stop-opacity="0.80"/><stop offset="0.783" stop-color="#0056ff" stop-opacity="1.00"/><stop offset="0.800" stop-color="#0080ff" stop-opacity="1.00"/><stop offset="0.817" stop-color="#00aaff" stop-opacity="1.00"/><stop offset="0.833" stop-color="#00d4ff" stop-opacity="1.00"/><stop offset="0.850" stop-color="#00d8ff" stop-opacity="1.00"/><stop offset="0.867" stop-color="#00d6ff" stop-opacity="1.00"/><stop offset="0.883" stop-color="#00d3ff" stop-opacity="1.00"/><stop offset="0.900" stop-color="#00c8ff" stop-opacity="1.00"/><stop offset="0.917" stop-color="#0092ff" stop-opacity="1.00"/><stop offset="0.933" stop-color="#005dff" stop-opacity="1.00"/><stop offset="0.950" stop-color="#0072ff" stop-opacity="1.00"/><stop offset="0.967" stop-color="#00a9ff" stop-opacity="1.00"/><stop offset="0.983" stop-color="#006cff" stop-opacity="1.00"/><stop offset="1.000" stop-color="#0000b2" stop-opacity="0.00"/></linearGradient>
<path d="M128.2 245 Q114.70 342.5 128 440" stroke="url(#g10)" stroke-width="5" fill="none" filter="url(#b1)"/>
<path d="M128.2 245 Q114.70 342.5 128 440" stroke="url(#g11)" stroke-width="1.7" fill="none"/>
<linearGradient id="g12" gradientUnits="userSpaceOnUse" x1="0" y1="245" x2="0" y2="440"><stop offset="0.000" stop-color="#0000b4" stop-opacity="0.00"/><stop offset="0.017" stop-color="#008dff" stop-opacity="0.00"/><stop offset="0.033" stop-color="#005aff" stop-opacity="0.00"/><stop offset="0.050" stop-color="#0052ff" stop-opacity="0.00"/><stop offset="0.067" stop-color="#0052ff" stop-opacity="0.00"/><stop offset="0.083" stop-color="#007dff" stop-opacity="0.00"/><stop offset="0.100" stop-color="#00a7ff" stop-opacity="0.00"/><stop offset="0.117" stop-color="#00c1ff" stop-opacity="0.00"/><stop offset="0.133" stop-color="#00cdff" stop-opacity="0.00"/><stop offset="0.150" stop-color="#00d8ff" stop-opacity="0.00"/><stop offset="0.167" stop-color="#00e3ff" stop-opacity="0.00"/><stop offset="0.183" stop-color="#00d0ff" stop-opacity="0.00"/><stop offset="0.200" stop-color="#00b6ff" stop-opacity="0.00"/><stop offset="0.217" stop-color="#007fff" stop-opacity="0.00"/><stop offset="0.233" stop-color="#0018ff" stop-opacity="0.00"/><stop offset="0.250" stop-color="#0000e2" stop-opacity="0.00"/><stop offset="0.267" stop-color="#0000d7" stop-opacity="0.00"/><stop offset="0.283" stop-color="#0046ff" stop-opacity="0.00"/><stop offset="0.300" stop-color="#00deff" stop-opacity="0.00"/><stop offset="0.317" stop-color="#36ffc8" stop-opacity="0.00"/><stop offset="0.333" stop-color="#8eff70" stop-opacity="0.00"/><stop offset="0.350" stop-color="#ceff30" stop-opacity="1.00"/><stop offset="0.367" stop-color="#ffef00" stop-opacity="1.00"/><stop offset="0.383" stop-color="#ffaf00" stop-opacity="1.00"/><stop offset="0.400" stop-color="#ff6f00" stop-opacity="1.00"/><stop offset="0.417" stop-color="#ff3300" stop-opacity="1.00"/><stop offset="0.433" stop-color="#ff2600" stop-opacity="1.00"/><stop offset="0.450" stop-color="#ff1900" stop-opacity="1.00"/><stop offset="0.467" stop-color="#ff0c00" stop-opacity="1.00"/><stop offset="0.483" stop-color="#fe0000" stop-opacity="1.00"/><stop offset="0.500" stop-color="#f50000" stop-opacity="1.00"/><stop offset="0.517" stop-color="#ff0200" stop-opacity="1.00"/><stop offset="0.533" stop-color="#ff0d00" stop-opacity="1.00"/><stop offset="0.550" stop-color="#ff1800" stop-opacity="1.00"/><stop offset="0.567" stop-color="#ff2400" stop-opacity="1.00"/><stop offset="0.583" stop-color="#ff2f00" stop-opacity="1.00"/><stop offset="0.600" stop-color="#ff5a00" stop-opacity="1.00"/><stop offset="0.617" stop-color="#ff9700" stop-opacity="1.00"/><stop offset="0.633" stop-color="#ffd400" stop-opacity="1.00"/><stop offset="0.650" stop-color="#deff20" stop-opacity="1.00"/><stop offset="0.667" stop-color="#89ff75" stop-opacity="0.00"/><stop offset="0.683" stop-color="#32ffcc" stop-opacity="0.00"/><stop offset="0.700" stop-color="#00c6ff" stop-opacity="0.00"/><stop offset="0.717" stop-color="#005aff" stop-opacity="0.00"/><stop offset="0.733" stop-color="#0013ff" stop-opacity="0.00"/><stop offset="0.750" stop-color="#0000d8" stop-opacity="0.00"/><stop offset="0.767" stop-color="#001eff" stop-opacity="0.00"/><stop offset="0.783" stop-color="#005cff" stop-opacity="0.00"/><stop offset="0.800" stop-color="#0088ff" stop-opacity="0.00"/><stop offset="0.817" stop-color="#00b3ff" stop-opacity="0.00"/><stop offset="0.833" stop-color="#00dfff" stop-opacity="0.00"/><stop offset="0.850" stop-color="#00e3ff" stop-opacity="0.00"/><stop offset="0.867" stop-color="#00e0ff" stop-opacity="0.00"/><stop offset="0.883" stop-color="#00ddff" stop-opacity="0.00"/><stop offset="0.900" stop-color="#00d2ff" stop-opacity="0.00"/><stop offset="0.917" stop-color="#009bff" stop-opacity="0.00"/><stop offset="0.933" stop-color="#0063ff" stop-opacity="0.00"/><stop offset="0.950" stop-color="#007aff" stop-opacity="0.00"/><stop offset="0.967" stop-color="#00b2ff" stop-opacity="0.00"/><stop offset="0.983" stop-color="#0073ff" stop-opacity="0.00"/><stop offset="1.000" stop-color="#0000b4" stop-opacity="0.00"/></linearGradient>
<path d="M128.2 245 Q114.70 342.5 128 440" stroke="url(#g12)" stroke-width="0.8" fill="none"/>
<linearGradient id="g13" gradientUnits="userSpaceOnUse" x1="0" y1="245" x2="0" y2="440"><stop offset="0.000" stop-color="#00009b" stop-opacity="0.00"/><stop offset="0.017" stop-color="#0000f9" stop-opacity="0.42"/><stop offset="0.033" stop-color="#0000e2" stop-opacity="0.28"/><stop offset="0.050" stop-color="#0000de" stop-opacity="0.26"/><stop offset="0.067" stop-color="#0000de" stop-opacity="0.26"/><stop offset="0.083" stop-color="#0000f2" stop-opacity="0.37"/><stop offset="0.100" stop-color="#0006ff" stop-opacity="0.49"/><stop offset="0.117" stop-color="#0012ff" stop-opacity="0.56"/><stop offset="0.133" stop-color="#0017ff" stop-opacity="0.59"/><stop offset="0.150" stop-color="#001cff" stop-opacity="0.62"/><stop offset="0.167" stop-color="#0021ff" stop-opacity="0.65"/><stop offset="0.183" stop-color="#0018ff" stop-opacity="0.60"/><stop offset="0.200" stop-color="#000dff" stop-opacity="0.53"/><stop offset="0.217" stop-color="#0000f4" stop-opacity="0.39"/><stop offset="0.233" stop-color="#0000ca" stop-opacity="0.14"/><stop offset="0.250" stop-color="#0000b4" stop-opacity="0.01"/><stop offset="0.267" stop-color="#0000ae" stop-opacity="0.00"/><stop offset="0.283" stop-color="#0000e8" stop-opacity="0.32"/><stop offset="0.300" stop-color="#003bff" stop-opacity="0.80"/><stop offset="0.317" stop-color="#006aff" stop-opacity="1.00"/><stop offset="0.333" stop-color="#0099ff" stop-opacity="1.00"/><stop offset="0.350" stop-color="#00bbff" stop-opacity="1.00"/><stop offset="0.367" stop-color="#00ddff" stop-opacity="1.00"/><stop offset="0.383" stop-color="#00d8ff" stop-opacity="1.00"/><stop offset="0.400" stop-color="#00b2ff" stop-opacity="1.00"/><stop offset="0.417" stop-color="#0090ff" stop-opacity="1.00"/><stop offset="0.433" stop-color="#0094ff" stop-opacity="1.00"/><stop offset="0.450" stop-color="#0098ff" stop-opacity="1.00"/><stop offset="0.467" stop-color="#009cff" stop-opacity="1.00"/><stop offset="0.483" stop-color="#00a0ff" stop-opacity="1.00"/><stop offset="0.500" stop-color="#00a3ff" stop-opacity="1.00"/><stop offset="0.517" stop-color="#009fff" stop-opacity="1.00"/><stop offset="0.533" stop-color="#009cff" stop-opacity="1.00"/><stop offset="0.550" stop-color="#0098ff" stop-opacity="1.00"/><stop offset="0.567" stop-color="#0094ff" stop-opacity="1.00"/><stop offset="0.583" stop-color="#0091ff" stop-opacity="1.00"/><stop offset="0.600" stop-color="#009fff" stop-opacity="1.00"/><stop offset="0.617" stop-color="#00b7ff" stop-opacity="1.00"/><stop offset="0.633" stop-color="#00d0ff" stop-opacity="1.00"/><stop offset="0.650" stop-color="#00c3ff" stop-opacity="1.00"/><stop offset="0.667" stop-color="#0096ff" stop-opacity="1.00"/><stop offset="0.683" stop-color="#0067ff" stop-opacity="1.00"/><stop offset="0.700" stop-color="#002eff" stop-opacity="0.72"/><stop offset="0.717" stop-color="#0000f4" stop-opacity="0.39"/><stop offset="0.733" stop-color="#0000ce" stop-opacity="0.16"/><stop offset="0.750" stop-color="#0000ae" stop-opacity="0.00"/><stop offset="0.767" stop-color="#0000c9" stop-opacity="0.14"/><stop offset="0.783" stop-color="#0000e3" stop-opacity="0.29"/><stop offset="0.800" stop-color="#0000f7" stop-opacity="0.40"/><stop offset="0.817" stop-color="#000bff" stop-opacity="0.52"/><stop offset="0.833" stop-color="#001fff" stop-opacity="0.64"/><stop offset="0.850" stop-color="#0021ff" stop-opacity="0.65"/><stop offset="0.867" stop-color="#0020ff" stop-opacity="0.64"/><stop offset="0.883" stop-color="#001eff" stop-opacity="0.63"/><stop offset="0.900" stop-color="#0019ff" stop-opacity="0.60"/><stop offset="0.917" stop-color="#0000ff" stop-opacity="0.45"/><stop offset="0.933" stop-color="#0000e6" stop-opacity="0.31"/><stop offset="0.950" stop-color="#0000f0" stop-opacity="0.37"/><stop offset="0.967" stop-color="#000bff" stop-opacity="0.52"/><stop offset="0.983" stop-color="#0000f9" stop-opacity="0.42"/><stop offset="1.000" stop-color="#00009b" stop-opacity="0.00"/></linearGradient>
<linearGradient id="g14" gradientUnits="userSpaceOnUse" x1="0" y1="245" x2="0" y2="440"><stop offset="0.000" stop-color="#0000b2" stop-opacity="0.00"/><stop offset="0.017" stop-color="#005eff" stop-opacity="1.00"/><stop offset="0.033" stop-color="#0034ff" stop-opacity="1.00"/><stop offset="0.050" stop-color="#002dff" stop-opacity="0.96"/><stop offset="0.067" stop-color="#002dff" stop-opacity="0.96"/><stop offset="0.083" stop-color="#0051ff" stop-opacity="1.00"/><stop offset="0.100" stop-color="#0074ff" stop-opacity="1.00"/><stop offset="0.117" stop-color="#0089ff" stop-opacity="1.00"/><stop offset="0.133" stop-color="#0093ff" stop-opacity="1.00"/><stop offset="0.150" stop-color="#009cff" stop-opacity="1.00"/><stop offset="0.167" stop-color="#00a5ff" stop-opacity="1.00"/><stop offset="0.183" stop-color="#0095ff" stop-opacity="1.00"/><stop offset="0.200" stop-color="#0080ff" stop-opacity="1.00"/><stop offset="0.217" stop-color="#0055ff" stop-opacity="1.00"/><stop offset="0.233" stop-color="#0009ff" stop-opacity="0.68"/><stop offset="0.250" stop-color="#0000df" stop-opacity="0.35"/><stop offset="0.267" stop-color="#0000d4" stop-opacity="0.27"/><stop offset="0.283" stop-color="#0040ff" stop-opacity="1.00"/><stop offset="0.300" stop-color="#00d4ff" stop-opacity="1.00"/><stop offset="0.317" stop-color="#2affd4" stop-opacity="1.00"/><stop offset="0.333" stop-color="#7fff7f" stop-opacity="1.00"/><stop offset="0.350" stop-color="#bdff41" stop-opacity="1.00"/><stop offset="0.367" stop-color="#fbff03" stop-opacity="1.00"/><stop offset="0.383" stop-color="#f3ff0b" stop-opacity="1.00"/><stop offset="0.400" stop-color="#aeff50" stop-opacity="1.00"/><stop offset="0.417" stop-color="#6fff8f" stop-opacity="1.00"/><stop offset="0.433" stop-color="#76ff88" stop-opacity="1.00"/><stop offset="0.450" stop-color="#7eff80" stop-opacity="1.00"/><stop offset="0.467" stop-color="#85ff79" stop-opacity="1.00"/><stop offset="0.483" stop-color="#8dff71" stop-opacity="1.00"/><stop offset="0.500" stop-color="#92ff6c" stop-opacity="1.00"/><stop offset="0.517" stop-color="#8cff72" stop-opacity="1.00"/><stop offset="0.533" stop-color="#85ff79" stop-opacity="1.00"/><stop offset="0.550" stop-color="#7eff80" stop-opacity="1.00"/><stop offset="0.567" stop-color="#78ff86" stop-opacity="1.00"/><stop offset="0.583" stop-color="#71ff8d" stop-opacity="1.00"/><stop offset="0.600" stop-color="#8aff74" stop-opacity="1.00"/><stop offset="0.617" stop-color="#b7ff47" stop-opacity="1.00"/><stop offset="0.633" stop-color="#e5ff19" stop-opacity="1.00"/><stop offset="0.650" stop-color="#cdff31" stop-opacity="1.00"/><stop offset="0.667" stop-color="#7aff84" stop-opacity="1.00"/><stop offset="0.683" stop-color="#25ffd9" stop-opacity="1.00"/><stop offset="0.700" stop-color="#00bcff" stop-opacity="1.00"/><stop offset="0.717" stop-color="#0054ff" stop-opacity="1.00"/><stop offset="0.733" stop-color="#000fff" stop-opacity="0.72"/><stop offset="0.750" stop-color="#0000d4" stop-opacity="0.27"/><stop offset="0.767" stop-color="#0007ff" stop-opacity="0.66"/><stop offset="0.783" stop-color="#0036ff" stop-opacity="1.00"/><stop offset="0.800" stop-color="#005aff" stop-opacity="1.00"/><stop offset="0.817" stop-color="#007dff" stop-opacity="1.00"/><stop offset="0.833" stop-color="#00a1ff" stop-opacity="1.00"/><stop offset="0.850" stop-color="#00a5ff" stop-opacity="1.00"/><stop offset="0.867" stop-color="#00a2ff" stop-opacity="1.00"/><stop offset="0.883" stop-color="#00a0ff" stop-opacity="1.00"/><stop offset="0.900" stop-color="#0097ff" stop-opacity="1.00"/><stop offset="0.917" stop-color="#0069ff" stop-opacity="1.00"/><stop offset="0.933" stop-color="#003bff" stop-opacity="1.00"/><stop offset="0.950" stop-color="#004eff" stop-opacity="1.00"/><stop offset="0.967" stop-color="#007dff" stop-opacity="1.00"/><stop offset="0.983" stop-color="#005eff" stop-opacity="1.00"/><stop offset="1.000" stop-color="#0000b2" stop-opacity="0.00"/></linearGradient>
<path d="M187.5 245 Q174.00 342.5 187.3 440" stroke="url(#g13)" stroke-width="5" fill="none" filter="url(#b1)"/>
<path d="M187.5 245 Q174.00 342.5 187.3 440" stroke="url(#g14)" stroke-width="1.4" fill="none"/>
<linearGradient id="g15" gradientUnits="userSpaceOnUse" x1="0" y1="245" x2="0" y2="440"><stop offset="0.000" stop-color="#0000b4" stop-opacity="0.00"/><stop offset="0.017" stop-color="#0065ff" stop-opacity="0.00"/><stop offset="0.033" stop-color="#0039ff" stop-opacity="0.00"/><stop offset="0.050" stop-color="#0033ff" stop-opacity="0.00"/><stop offset="0.067" stop-color="#0033ff" stop-opacity="0.00"/><stop offset="0.083" stop-color="#0057ff" stop-opacity="0.00"/><stop offset="0.100" stop-color="#007bff" stop-opacity="0.00"/><stop offset="0.117" stop-color="#0091ff" stop-opacity="0.00"/><stop offset="0.133" stop-color="#009bff" stop-opacity="0.00"/><stop offset="0.150" stop-color="#00a4ff" stop-opacity="0.00"/><stop offset="0.167" stop-color="#00aeff" stop-opacity="0.00"/><stop offset="0.183" stop-color="#009dff" stop-opacity="0.00"/><stop offset="0.200" stop-color="#0087ff" stop-opacity="0.00"/><stop offset="0.217" stop-color="#005cff" stop-opacity="0.00"/><stop offset="0.233" stop-color="#000dff" stop-opacity="0.00"/><stop offset="0.250" stop-color="#0000e2" stop-opacity="0.00"/><stop offset="0.267" stop-color="#0000d7" stop-opacity="0.00"/><stop offset="0.283" stop-color="#0046ff" stop-opacity="0.00"/><stop offset="0.300" stop-color="#00deff" stop-opacity="0.00"/><stop offset="0.317" stop-color="#36ffc8" stop-opacity="0.00"/><stop offset="0.333" stop-color="#8eff70" stop-opacity="0.00"/><stop offset="0.350" stop-color="#ceff30" stop-opacity="1.00"/><stop offset="0.367" stop-color="#ffef00" stop-opacity="1.00"/><stop offset="0.383" stop-color="#fff700" stop-opacity="1.00"/><stop offset="0.400" stop-color="#bfff3f" stop-opacity="1.00"/><stop offset="0.417" stop-color="#7eff80" stop-opacity="0.00"/><stop offset="0.433" stop-color="#85ff79" stop-opacity="0.00"/><stop offset="0.450" stop-color="#8dff71" stop-opacity="0.00"/><stop offset="0.467" stop-color="#95ff69" stop-opacity="0.00"/><stop offset="0.483" stop-color="#9dff61" stop-opacity="0.00"/><stop offset="0.500" stop-color="#a2ff5c" stop-opacity="0.00"/><stop offset="0.517" stop-color="#9bff63" stop-opacity="0.00"/><stop offset="0.533" stop-color="#94ff6a" stop-opacity="0.00"/><stop offset="0.550" stop-color="#8eff70" stop-opacity="0.00"/><stop offset="0.567" stop-color="#87ff77" stop-opacity="0.00"/><stop offset="0.583" stop-color="#80ff7e" stop-opacity="0.00"/><stop offset="0.600" stop-color="#9aff64" stop-opacity="0.00"/><stop offset="0.617" stop-color="#c8ff36" stop-opacity="1.00"/><stop offset="0.633" stop-color="#f7ff07" stop-opacity="1.00"/><stop offset="0.650" stop-color="#deff20" stop-opacity="1.00"/><stop offset="0.667" stop-color="#89ff75" stop-opacity="0.00"/><stop offset="0.683" stop-color="#32ffcc" stop-opacity="0.00"/><stop offset="0.700" stop-color="#00c6ff" stop-opacity="0.00"/><stop offset="0.717" stop-color="#005aff" stop-opacity="0.00"/><stop offset="0.733" stop-color="#0013ff" stop-opacity="0.00"/><stop offset="0.750" stop-color="#0000d7" stop-opacity="0.00"/><stop offset="0.767" stop-color="#000bff" stop-opacity="0.00"/><stop offset="0.783" stop-color="#003bff" stop-opacity="0.00"/><stop offset="0.800" stop-color="#0060ff" stop-opacity="0.00"/><stop offset="0.817" stop-color="#0085ff" stop-opacity="0.00"/><stop offset="0.833" stop-color="#00aaff" stop-opacity="0.00"/><stop offset="0.850" stop-color="#00aeff" stop-opacity="0.00"/><stop offset="0.867" stop-color="#00abff" stop-opacity="0.00"/><stop offset="0.883" stop-color="#00a9ff" stop-opacity="0.00"/><stop offset="0.900" stop-color="#009fff" stop-opacity="0.00"/><stop offset="0.917" stop-color="#0070ff" stop-opacity="0.00"/><stop offset="0.933" stop-color="#0041ff" stop-opacity="0.00"/><stop offset="0.950" stop-color="#0054ff" stop-opacity="0.00"/><stop offset="0.967" stop-color="#0084ff" stop-opacity="0.00"/><stop offset="0.983" stop-color="#0064ff" stop-opacity="0.00"/><stop offset="1.000" stop-color="#0000b4" stop-opacity="0.00"/></linearGradient>
<path d="M187.5 245 Q174.00 342.5 187.3 440" stroke="url(#g15)" stroke-width="0.8" fill="none"/>
<text x="70.5" y="346.8" font-size="12.8" fill="#ffffff" textLength="12.2" lengthAdjust="spacingAndGlyphs">T2</text>
<text x="130" y="346.8" font-size="12.8" fill="#ffffff" textLength="11.5" lengthAdjust="spacingAndGlyphs">T1</text>
<text x="186.3" y="346.8" font-size="12.8" fill="#ffffff" textLength="12.2" lengthAdjust="spacingAndGlyphs">T3</text>
<text x="2.3" y="398.6" font-size="8.2" font-weight="bold" fill="#f0f0ff" textLength="32" lengthAdjust="spacingAndGlyphs">Azimuth</text>
<path d="M13 429.8 V407.2 M13 429.8 H35" stroke="#e8e8f8" stroke-width="0.9" fill="none"/>
<path d="M13 404.2 l-2.2 4 h4.4 z M37.7 429.8 l-4 -2.2 v4.4 z" fill="#f0f0ff"/>
<text x="40" y="430.8" font-size="8.2" font-weight="bold" fill="#f0f0ff" textLength="24" lengthAdjust="spacingAndGlyphs">Range</text>
<rect x="1" y="476" width="244.5" height="197.5" fill="#00009c"/>
<rect x="1" y="476" width="244.5" height="1" fill="#06063a"/>
<rect x="1" y="476" width="0.8" height="197.5" fill="#06064a"/>
<rect x="244.7" y="476" width="0.8" height="197.5" fill="#06064a"/>
<rect x="1" y="672.7" width="244.5" height="0.8" fill="#101050"/>
<rect x="21.5" y="500" width="7.5" height="150" fill="#0818e0" opacity="0.35" filter="url(#b2)"/>
<linearGradient id="g16" gradientUnits="userSpaceOnUse" x1="0" y1="495" x2="0" y2="655"><stop offset="0.000" stop-color="#0000aa" stop-opacity="0.00"/><stop offset="0.017" stop-color="#0000bd" stop-opacity="0.06"/><stop offset="0.033" stop-color="#0000cf" stop-opacity="0.17"/><stop offset="0.050" stop-color="#0000e2" stop-opacity="0.28"/><stop offset="0.067" stop-color="#0000f1" stop-opacity="0.37"/><stop offset="0.083" stop-color="#0000f5" stop-opacity="0.40"/><stop offset="0.100" stop-color="#0000fa" stop-opacity="0.42"/><stop offset="0.117" stop-color="#0000ff" stop-opacity="0.45"/><stop offset="0.133" stop-color="#0004ff" stop-opacity="0.48"/><stop offset="0.150" stop-color="#0009ff" stop-opacity="0.51"/><stop offset="0.167" stop-color="#000eff" stop-opacity="0.53"/><stop offset="0.183" stop-color="#0012ff" stop-opacity="0.56"/><stop offset="0.200" stop-color="#0017ff" stop-opacity="0.59"/><stop offset="0.217" stop-color="#001bff" stop-opacity="0.61"/><stop offset="0.233" stop-color="#0020ff" stop-opacity="0.64"/><stop offset="0.250" stop-color="#0025ff" stop-opacity="0.67"/><stop offset="0.267" stop-color="#0029ff" stop-opacity="0.70"/><stop offset="0.283" stop-color="#002eff" stop-opacity="0.72"/><stop offset="0.300" stop-color="#0033ff" stop-opacity="0.75"/><stop offset="0.317" stop-color="#0037ff" stop-opacity="0.78"/><stop offset="0.333" stop-color="#003cff" stop-opacity="0.81"/><stop offset="0.350" stop-color="#003fff" stop-opacity="0.83"/><stop offset="0.367" stop-color="#0041ff" stop-opacity="0.84"/><stop offset="0.383" stop-color="#0043ff" stop-opacity="0.85"/><stop offset="0.400" stop-color="#0045ff" stop-opacity="0.86"/><stop offset="0.417" stop-color="#0047ff" stop-opacity="0.87"/><stop offset="0.433" stop-color="#0049ff" stop-opacity="0.88"/><stop offset="0.450" stop-color="#004bff" stop-opacity="0.89"/><stop offset="0.467" stop-color="#004cff" stop-opacity="0.90"/><stop offset="0.483" stop-color="#004eff" stop-opacity="0.91"/><stop offset="0.500" stop-color="#0050ff" stop-opacity="0.92"/><stop offset="0.517" stop-color="#004fff" stop-opacity="0.92"/><stop offset="0.533" stop-color="#004eff" stop-opacity="0.91"/><stop offset="0.550" stop-color="#004dff" stop-opacity="0.91"/><stop offset="0.567" stop-color="#004cff" stop-opacity="0.90"/><stop offset="0.583" stop-color="#004bff" stop-opacity="0.90"/><stop offset="0.600" stop-color="#004bff" stop-opacity="0.89"/><stop offset="0.617" stop-color="#004aff" stop-opacity="0.89"/><stop offset="0.633" stop-color="#0049ff" stop-opacity="0.88"/><stop offset="0.650" stop-color="#0048ff" stop-opacity="0.88"/><stop offset="0.667" stop-color="#0045ff" stop-opacity="0.86"/><stop offset="0.683" stop-color="#0040ff" stop-opacity="0.83"/><stop offset="0.700" stop-color="#003bff" stop-opacity="0.80"/><stop offset="0.717" stop-color="#0037ff" stop-opacity="0.77"/><stop offset="0.733" stop-color="#0032ff" stop-opacity="0.75"/><stop offset="0.750" stop-color="#002dff" stop-opacity="0.72"/><stop offset="0.767" stop-color="#0029ff" stop-opacity="0.69"/><stop offset="0.783" stop-color="#0024ff" stop-opacity="0.67"/><stop offset="0.800" stop-color="#0020ff" stop-opacity="0.64"/><stop offset="0.817" stop-color="#001aff" stop-opacity="0.61"/><stop offset="0.833" stop-color="#0013ff" stop-opacity="0.57"/><stop offset="0.850" stop-color="#000cff" stop-opacity="0.53"/><stop offset="0.867" stop-color="#0006ff" stop-opacity="0.49"/><stop offset="0.883" stop-color="#0000fe" stop-opacity="0.44"/><stop offset="0.900" stop-color="#0000f7" stop-opacity="0.40"/><stop offset="0.917" stop-color="#0000f0" stop-opacity="0.36"/><stop offset="0.933" stop-color="#0000e9" stop-opacity="0.32"/><stop offset="0.950" stop-color="#0000db" stop-opacity="0.24"/><stop offset="0.967" stop-color="#0000cb" stop-opacity="0.15"/><stop offset="0.983" stop-color="#0000bb" stop-opacity="0.05"/><stop offset="1.000" stop-color="#0000aa" stop-opacity="0.00"/></linearGradient>
<linearGradient id="g17" gradientUnits="userSpaceOnUse" x1="0" y1="495" x2="0" y2="655"><stop offset="0.000" stop-color="#0000b2" stop-opacity="0.00"/><stop offset="0.017" stop-color="#0000c8" stop-opacity="0.17"/><stop offset="0.033" stop-color="#0000de" stop-opacity="0.34"/><stop offset="0.050" stop-color="#0000f3" stop-opacity="0.51"/><stop offset="0.067" stop-color="#0006ff" stop-opacity="0.65"/><stop offset="0.083" stop-color="#000bff" stop-opacity="0.69"/><stop offset="0.100" stop-color="#0011ff" stop-opacity="0.74"/><stop offset="0.117" stop-color="#0016ff" stop-opacity="0.78"/><stop offset="0.133" stop-color="#001cff" stop-opacity="0.82"/><stop offset="0.150" stop-color="#0021ff" stop-opacity="0.86"/><stop offset="0.167" stop-color="#0027ff" stop-opacity="0.91"/><stop offset="0.183" stop-color="#002cff" stop-opacity="0.95"/><stop offset="0.200" stop-color="#0031ff" stop-opacity="0.99"/><stop offset="0.217" stop-color="#0037ff" stop-opacity="1.00"/><stop offset="0.233" stop-color="#003cff" stop-opacity="1.00"/><stop offset="0.250" stop-color="#0042ff" stop-opacity="1.00"/><stop offset="0.267" stop-color="#0047ff" stop-opacity="1.00"/><stop offset="0.283" stop-color="#004dff" stop-opacity="1.00"/><stop offset="0.300" stop-color="#0052ff" stop-opacity="1.00"/><stop offset="0.317" stop-color="#0058ff" stop-opacity="1.00"/><stop offset="0.333" stop-color="#005dff" stop-opacity="1.00"/><stop offset="0.350" stop-color="#0061ff" stop-opacity="1.00"/><stop offset="0.367" stop-color="#0063ff" stop-opacity="1.00"/><stop offset="0.383" stop-color="#0066ff" stop-opacity="1.00"/><stop offset="0.400" stop-color="#0068ff" stop-opacity="1.00"/><stop offset="0.417" stop-color="#006aff" stop-opacity="1.00"/><stop offset="0.433" stop-color="#006cff" stop-opacity="1.00"/><stop offset="0.450" stop-color="#006eff" stop-opacity="1.00"/><stop offset="0.467" stop-color="#0070ff" stop-opacity="1.00"/><stop offset="0.483" stop-color="#0073ff" stop-opacity="1.00"/><stop offset="0.500" stop-color="#0075ff" stop-opacity="1.00"/><stop offset="0.517" stop-color="#0074ff" stop-opacity="1.00"/><stop offset="0.533" stop-color="#0073ff" stop-opacity="1.00"/><stop offset="0.550" stop-color="#0072ff" stop-opacity="1.00"/><stop offset="0.567" stop-color="#0070ff" stop-opacity="1.00"/><stop offset="0.583" stop-color="#006fff" stop-opacity="1.00"/><stop offset="0.600" stop-color="#006eff" stop-opacity="1.00"/><stop offset="0.617" stop-color="#006dff" stop-opacity="1.00"/><stop offset="0.633" stop-color="#006cff" stop-opacity="1.00"/><stop offset="0.650" stop-color="#006bff" stop-opacity="1.00"/><stop offset="0.667" stop-color="#0067ff" stop-opacity="1.00"/><stop offset="0.683" stop-color="#0062ff" stop-opacity="1.00"/><stop offset="0.700" stop-color="#005cff" stop-opacity="1.00"/><stop offset="0.717" stop-color="#0057ff" stop-opacity="1.00"/><stop offset="0.733" stop-color="#0051ff" stop-opacity="1.00"/><stop offset="0.750" stop-color="#004cff" stop-opacity="1.00"/><stop offset="0.767" stop-color="#0047ff" stop-opacity="1.00"/><stop offset="0.783" stop-color="#0041ff" stop-opacity="1.00"/><stop offset="0.800" stop-color="#003cff" stop-opacity="1.00"/><stop offset="0.817" stop-color="#0036ff" stop-opacity="1.00"/><stop offset="0.833" stop-color="#002dff" stop-opacity="0.96"/><stop offset="0.850" stop-color="#0025ff" stop-opacity="0.90"/><stop offset="0.867" stop-color="#001dff" stop-opacity="0.83"/><stop offset="0.883" stop-color="#0015ff" stop-opacity="0.77"/><stop offset="0.900" stop-color="#000dff" stop-opacity="0.70"/><stop offset="0.917" stop-color="#0005ff" stop-opacity="0.64"/><stop offset="0.933" stop-color="#0000fb" stop-opacity="0.58"/><stop offset="0.950" stop-color="#0000eb" stop-opacity="0.45"/><stop offset="0.967" stop-color="#0000d8" stop-opacity="0.30"/><stop offset="0.983" stop-color="#0000c5" stop-opacity="0.15"/><stop offset="1.000" stop-color="#0000b2" stop-opacity="0.00"/></linearGradient>
<path d="M25.0 495 Q25.50 575.0 25.6 655" stroke="url(#g16)" stroke-width="5" fill="none" filter="url(#b1)"/>
<path d="M25.0 495 Q25.50 575.0 25.6 655" stroke="url(#g17)" stroke-width="2.0" fill="none"/>
<circle cx="122.3" cy="574.8" r="5.2" fill="url(#spot)"/>
<ellipse cx="219.6" cy="574.8" rx="3.2" ry="16" fill="url(#blob3)"/>
<ellipse cx="219.6" cy="574.8" rx="1.1" ry="10" fill="#40a8ff" opacity="0.7" filter="url(#b1)"/>
<text x="30" y="579.2" font-size="12.8" fill="#ffffff" textLength="12.2" lengthAdjust="spacingAndGlyphs">T2</text>
<text x="131.7" y="579.8" font-size="12.8" fill="#ffffff" textLength="10.8" lengthAdjust="spacingAndGlyphs">T1</text>
<text x="226.3" y="579.8" font-size="12.8" fill="#ffffff" textLength="11.6" lengthAdjust="spacingAndGlyphs">T3</text>
<text x="2.3" y="632.7" font-size="8.2" font-weight="bold" fill="#f0f0ff" textLength="32" lengthAdjust="spacingAndGlyphs">Azimuth</text>
<path d="M13 663.5 V640.9 M13 663.5 H35" stroke="#e8e8f8" stroke-width="0.9" fill="none"/>
<path d="M13 637.9 l-2.2 4 h4.4 z M37.7 663.5 l-4 -2.2 v4.4 z" fill="#f0f0ff"/>
<text x="40" y="665.1" font-size="8.2" font-weight="bold" fill="#f0f0ff" textLength="24" lengthAdjust="spacingAndGlyphs">Range</text>
<g>
<line x1="331.2" y1="2.8" x2="331.2" y2="195.7" stroke="#9a9ab8" stroke-width="0.7" stroke-dasharray="1 2.2"/>
<line x1="363.4" y1="2.8" x2="363.4" y2="195.7" stroke="#9a9ab8" stroke-width="0.7" stroke-dasharray="1 2.2"/>
<line x1="395.6" y1="2.8" x2="395.6" y2="195.7" stroke="#9a9ab8" stroke-width="0.7" stroke-dasharray="1 2.2"/>
<line x1="427.7" y1="2.8" x2="427.7" y2="195.7" stroke="#9a9ab8" stroke-width="0.7" stroke-dasharray="1 2.2"/>
<line x1="459.9" y1="2.8" x2="459.9" y2="195.7" stroke="#9a9ab8" stroke-width="0.7" stroke-dasharray="1 2.2"/>
<line x1="492.0" y1="2.8" x2="492.0" y2="195.7" stroke="#9a9ab8" stroke-width="0.7" stroke-dasharray="1 2.2"/>
<line x1="524.1" y1="2.8" x2="524.1" y2="195.7" stroke="#9a9ab8" stroke-width="0.7" stroke-dasharray="1 2.2"/>
<line x1="299.1" y1="178.0" x2="543.2" y2="178.0" stroke="#9a9ab8" stroke-width="0.7" stroke-dasharray="1 2.2"/>
<line x1="299.1" y1="160.3" x2="543.2" y2="160.3" stroke="#9a9ab8" stroke-width="0.7" stroke-dasharray="1 2.2"/>
<line x1="299.1" y1="142.6" x2="543.2" y2="142.6" stroke="#9a9ab8" stroke-width="0.7" stroke-dasharray="1 2.2"/>
<line x1="299.1" y1="124.9" x2="543.2" y2="124.9" stroke="#9a9ab8" stroke-width="0.7" stroke-dasharray="1 2.2"/>
<line x1="299.1" y1="107.1" x2="543.2" y2="107.1" stroke="#9a9ab8" stroke-width="0.7" stroke-dasharray="1 2.2"/>
<line x1="299.1" y1="89.4" x2="543.2" y2="89.4" stroke="#9a9ab8" stroke-width="0.7" stroke-dasharray="1 2.2"/>
<line x1="299.1" y1="71.7" x2="543.2" y2="71.7" stroke="#9a9ab8" stroke-width="0.7" stroke-dasharray="1 2.2"/>
<line x1="299.1" y1="54.0" x2="543.2" y2="54.0" stroke="#9a9ab8" stroke-width="0.7" stroke-dasharray="1 2.2"/>
<line x1="299.1" y1="36.3" x2="543.2" y2="36.3" stroke="#9a9ab8" stroke-width="0.7" stroke-dasharray="1 2.2"/>
<line x1="299.1" y1="18.6" x2="543.2" y2="18.6" stroke="#9a9ab8" stroke-width="0.7" stroke-dasharray="1 2.2"/>
<path d="M299.10 188.97 L299.55 188.91 L300.00 188.86 L300.45 188.80 L300.90 188.75 L301.35 188.69 L301.80 188.64 L302.25 188.59 L302.69 188.54 L303.14 188.48 L303.59 188.43 L304.04 188.38 L304.49 188.33 L304.94 188.28 L305.39 188.23 L305.84 188.18 L306.29 188.13 L306.74 188.08 L307.19 188.03 L307.64 187.98 L308.09 187.93 L308.54 187.88 L308.98 187.83 L309.43 187.77 L309.88 187.72 L310.33 187.67 L310.78 187.61 L311.23 187.56 L311.68 187.50 L312.13 187.44 L312.58 187.38 L313.03 187.32 L313.48 187.26 L313.93 187.20 L314.38 187.14 L314.83 187.07 L315.27 187.00 L315.72 186.93 L316.17 186.86 L316.62 186.79 L317.07 186.72 L317.52 186.64 L317.97 186.57 L318.42 186.49 L318.87 186.41 L319.32 186.33 L319.77 186.26 L320.22 186.18 L320.67 186.11 L321.12 186.04 L321.56 185.96 L322.01 185.89 L322.46 185.81 L322.91 185.73 L323.36 185.65 L323.81 185.56 L324.26 185.47 L324.71 185.38 L325.16 185.27 L325.61 185.16 L326.06 185.05 L326.51 184.92 L326.96 184.79 L327.41 184.65 L327.85 184.49 L328.30 184.33 L328.75 184.16 L329.20 183.97 L329.65 183.77 L330.10 183.56 L330.55 183.33 L331.00 183.09 L331.45 182.80 L331.90 182.24 L332.35 181.45 L332.80 180.55 L333.25 179.62 L333.70 178.57 L334.14 177.39 L334.59 176.22 L334.59 182.42 L334.14 183.88 L333.70 185.35 L333.25 186.67 L332.80 187.85 L332.35 189.03 L331.90 190.04 L331.45 190.75 L331.00 191.07 L330.55 191.32 L330.10 191.56 L329.65 191.79 L329.20 192.01 L328.75 192.21 L328.30 192.40 L327.85 192.58 L327.41 192.75 L326.96 192.91 L326.51 193.05 L326.06 193.19 L325.61 193.32 L325.16 193.44 L324.71 193.55 L324.26 193.65 L323.81 193.75 L323.36 193.84 L322.91 193.92 L322.46 193.99 L322.01 194.06 L321.56 194.13 L321.12 194.18 L320.67 194.24 L320.22 194.29 L319.77 194.34 L319.32 194.38 L318.87 194.42 L318.42 194.46 L317.97 194.49 L317.52 194.53 L317.07 194.56 L316.62 194.60 L316.17 194.63 L315.72 194.66 L315.27 194.68 L314.83 194.71 L314.38 194.74 L313.93 194.76 L313.48 194.79 L313.03 194.81 L312.58 194.83 L312.13 194.85 L311.68 194.87 L311.23 194.89 L310.78 194.91 L310.33 194.93 L309.88 194.95 L309.43 194.97 L308.98 194.98 L308.54 195.00 L308.09 195.02 L307.64 195.03 L307.19 195.05 L306.74 195.06 L306.29 195.08 L305.84 195.09 L305.39 195.11 L304.94 195.12 L304.49 195.14 L304.04 195.15 L303.59 195.17 L303.14 195.18 L302.69 195.20 L302.25 195.22 L301.80 195.23 L301.35 195.25 L300.90 195.27 L300.45 195.29 L300.00 195.31 L299.55 195.33 L299.10 195.35Z" fill="#ff0000"/>
<path d="M505.50 176.22 L505.98 177.08 L506.45 177.98 L506.93 178.88 L507.40 179.70 L507.88 180.40 L508.35 180.95 L508.82 181.44 L509.30 181.89 L509.77 182.29 L510.25 182.66 L510.72 182.98 L511.20 183.25 L511.67 183.50 L512.15 183.74 L512.62 183.97 L513.10 184.20 L513.57 184.41 L514.04 184.62 L514.52 184.83 L514.99 185.02 L515.47 185.21 L515.94 185.40 L516.42 185.57 L516.89 185.74 L517.37 185.91 L517.84 186.06 L518.31 186.21 L518.79 186.35 L519.26 186.49 L519.74 186.62 L520.21 186.74 L520.69 186.86 L521.16 186.96 L521.64 187.07 L522.11 187.16 L522.59 187.25 L523.06 187.33 L523.53 187.41 L524.01 187.48 L524.48 187.56 L524.96 187.62 L525.43 187.69 L525.91 187.75 L526.38 187.81 L526.86 187.87 L527.33 187.93 L527.81 187.98 L528.28 188.04 L528.75 188.09 L529.23 188.14 L529.70 188.19 L530.18 188.23 L530.65 188.28 L531.13 188.32 L531.60 188.37 L532.08 188.41 L532.55 188.45 L533.03 188.49 L533.50 188.53 L533.97 188.57 L534.45 188.61 L534.92 188.65 L535.40 188.68 L535.87 188.72 L536.35 188.76 L536.82 188.80 L537.30 188.83 L537.77 188.87 L538.24 188.91 L538.72 188.95 L539.19 188.98 L539.67 189.02 L540.14 189.06 L540.62 189.10 L541.09 189.15 L541.57 189.19 L542.04 189.23 L542.52 189.28 L542.99 189.32 L542.99 194.99 L542.52 194.95 L542.04 194.90 L541.57 194.86 L541.09 194.81 L540.62 194.77 L540.14 194.73 L539.67 194.69 L539.19 194.65 L538.72 194.62 L538.24 194.58 L537.77 194.54 L537.30 194.50 L536.82 194.47 L536.35 194.43 L535.87 194.39 L535.40 194.36 L534.92 194.32 L534.45 194.28 L533.97 194.24 L533.50 194.21 L533.03 194.17 L532.55 194.13 L532.08 194.09 L531.60 194.04 L531.13 194.00 L530.65 193.96 L530.18 193.91 L529.70 193.86 L529.23 193.82 L528.75 193.77 L528.28 193.71 L527.81 193.66 L527.33 193.61 L526.86 193.55 L526.38 193.49 L525.91 193.43 L525.43 193.36 L524.96 193.30 L524.48 193.23 L524.01 193.15 L523.53 193.08 L523.06 193.00 L522.59 192.92 L522.11 192.83 L521.64 192.73 L521.16 192.62 L520.69 192.51 L520.21 192.39 L519.74 192.27 L519.26 192.14 L518.79 191.99 L518.31 191.85 L517.84 191.69 L517.37 191.52 L516.89 191.35 L516.42 191.17 L515.94 190.98 L515.47 190.78 L514.99 190.57 L514.52 190.35 L514.04 190.13 L513.57 189.89 L513.10 189.64 L512.62 189.39 L512.15 189.12 L511.67 188.85 L511.20 188.56 L510.72 188.20 L510.25 187.76 L509.77 187.25 L509.30 186.68 L508.82 186.08 L508.35 185.45 L507.88 184.79 L507.40 184.05 L506.93 183.23 L506.45 182.36 L505.98 181.49 L505.50 180.65Z" fill="#ff0000"/>
<path d="M332.54 180.65 L334.59 177.28 L336.72 171.79 L338.90 164.53 L342.12 147.35 L344.88 125.75 L346.81 104.49 L348.10 82.89 L349.58 61.46 L351.12 50.66 L351.95 52.25 L352.79 59.33 L354.53 78.81 L355.68 71.73" stroke="#ff0000" stroke-width="0.9" fill="none"/>
<path d="M487.50 59.33 L488.79 54.02 L489.81 49.77 L490.71 54.02 L491.49 61.46 L493.03 82.89 L494.31 104.49 L495.79 125.75 L497.92 147.35 L501.19 164.53 L505.50 177.28 L507.43 179.76" stroke="#ff0000" stroke-width="1.0" fill="none"/>
<path d="M401.98 40.74 L402.58 39.91 L403.18 39.08 L403.78 38.25 L404.38 37.42 L404.98 36.60 L405.58 35.77 L406.18 34.93 L406.78 34.09 L407.37 33.24 L407.97 32.37 L408.57 31.42 L409.17 30.40 L409.77 29.34 L410.37 28.26 L410.97 27.18 L411.57 26.14 L412.17 25.16 L412.77 24.26 L413.37 23.47 L413.97 22.81 L414.57 22.31 L415.17 21.97 L415.77 21.65 L416.37 21.36 L416.97 21.09 L417.56 20.85 L418.16 20.65 L418.76 20.50 L419.36 20.41 L419.96 20.37 L420.56 20.38 L421.16 20.42 L421.76 20.47 L422.36 20.55 L422.96 20.64 L423.56 20.75 L424.16 20.88 L424.76 21.02 L425.36 21.18 L425.96 21.35 L426.56 21.53 L427.16 21.72 L427.75 21.94 L428.35 22.31 L428.95 22.82 L429.55 23.45 L430.15 24.20 L430.75 25.03 L431.35 25.95 L431.95 26.93 L432.55 27.97 L433.15 29.04 L433.75 30.13 L434.35 31.23 L434.95 32.32 L435.55 33.39 L436.15 34.42 L436.75 35.40 L437.35 36.31 L437.35 39.85 L436.75 38.98 L436.15 38.04 L435.55 37.04 L434.95 36.00 L434.35 34.93 L433.75 33.86 L433.15 32.79 L432.55 31.75 L431.95 30.75 L431.35 29.80 L430.75 28.92 L430.15 28.13 L429.55 27.44 L428.95 26.87 L428.35 26.43 L427.75 26.14 L427.16 26.00 L426.56 25.90 L425.96 25.81 L425.36 25.72 L424.76 25.65 L424.16 25.58 L423.56 25.51 L422.96 25.46 L422.36 25.41 L421.76 25.38 L421.16 25.35 L420.56 25.33 L419.96 25.33 L419.36 25.35 L418.76 25.42 L418.16 25.52 L417.56 25.65 L416.97 25.81 L416.37 26.00 L415.77 26.21 L415.17 26.44 L414.57 26.71 L413.97 27.25 L413.37 28.06 L412.77 29.07 L412.17 30.24 L411.57 31.52 L410.97 32.86 L410.37 34.21 L409.77 35.52 L409.17 36.72 L408.57 37.79 L407.97 38.65 L407.37 39.30 L406.78 39.87 L406.18 40.38 L405.58 40.85 L404.98 41.29 L404.38 41.70 L403.78 42.11 L403.18 42.52 L402.58 42.95 L401.98 43.39Z" fill="#ff0000" opacity="0.85"/>
<path d="M355.68 54.60 L356.68 66.72 L357.68 52.97 L358.68 65.95 L359.68 51.85 L360.68 65.82 L361.68 51.26 L362.68 65.08 L363.68 49.91 L364.68 64.83 L365.68 49.58 L366.68 63.44 L367.68 48.68 L368.68 62.40 L369.68 48.37 L370.68 62.07 L371.68 47.95 L372.68 61.39 L373.68 47.83 L374.68 60.81 L375.68 48.22 L376.68 60.06 L377.68 47.69 L378.68 58.63 L379.68 47.85 L380.68 58.21 L381.68 47.10 L382.68 58.03 L383.68 46.41 L384.68 56.80 L385.68 46.38 L386.68 57.02 L387.68 46.07 L388.68 55.82 L389.68 45.59 L390.68 55.03 L391.68 44.54 L392.68 54.61 L393.68 44.26 L394.68 54.11 L395.68 43.61 L396.68 52.33 L397.68 42.13 L398.68 51.44 L399.68 40.34 L400.68 49.55 L401.68 37.61 L402.68 47.38 L403.68 34.60 L404.68 45.14 L405.68 32.48 L406.68 42.79 L407.68 29.45 L408.68 39.91 L409.68 26.66 L410.68 36.04 L411.68 24.15 L412.68 30.72 L413.68 21.68 L414.68 28.13 L415.68 20.27 L416.68 27.48 L417.68 19.95 L418.68 26.44 L419.68 19.81 L420.68 26.58 L421.68 19.51 L422.68 26.45 L423.68 20.09 L424.68 26.42 L425.68 20.07 L426.68 26.92 L427.68 20.95 L428.68 27.58 L429.68 22.12 L430.68 29.84 L431.68 24.53 L432.68 32.39 L433.68 27.62 L434.68 35.98 L435.68 30.76 L436.68 40.00 L437.68 33.91 L438.68 43.19 L439.68 36.49 L440.68 45.64 L441.68 38.66 L442.68 47.72 L443.68 40.56 L444.68 49.67 L445.68 42.90 L446.68 51.66 L447.68 44.61 L448.68 53.48 L449.68 46.08 L450.68 54.66 L451.68 47.05 L452.68 55.68 L453.68 47.88 L454.68 56.54 L455.68 48.60 L456.68 57.56 L457.68 49.20 L458.68 58.12 L459.68 49.54 L460.68 59.04 L461.68 49.65 L462.68 59.87 L463.68 50.35 L464.68 60.62 L465.68 50.01 L466.68 61.78 L467.68 50.33 L468.68 62.24 L469.68 51.10 L470.68 64.03 L471.68 51.03 L472.68 64.62 L473.68 51.55 L474.68 65.10 L475.68 51.53 L476.68 64.67 L477.68 51.67 L478.68 64.95 L479.68 51.28 L480.68 64.48 L481.68 50.82 L482.68 64.08 L483.68 50.92 L484.68 63.34 L485.68 50.86 L486.68 62.50" stroke="#ff1010" stroke-width="0.85" fill="none"/>
<path d="M355.72 54.37 L357.32 66.13 L358.92 53.79 L360.52 66.32 L362.12 50.44 L363.72 62.25 L365.32 48.92 L366.92 63.62 L368.52 51.05 L370.12 60.97 L371.72 48.86 L373.32 60.18 L374.92 49.28 L376.52 59.69 L378.12 47.49 L379.72 57.30 L381.32 48.26 L382.92 57.01 L384.52 48.02 L386.12 56.03 L387.72 47.72 L389.32 55.86 L390.92 45.95 L392.52 54.09 L394.12 44.47 L395.72 52.37 L397.32 42.44 L398.92 49.71 L400.52 40.60 L402.12 48.38 L403.72 35.59 L405.32 44.54 L406.92 30.40 L408.52 38.74 L410.12 26.82 L411.72 33.25 L413.32 22.60 L414.92 27.98 L416.52 21.24 L418.12 26.68 L419.72 19.36 L421.32 26.47 L422.92 20.01 L424.52 26.29 L426.12 21.36 L427.72 26.39 L429.32 21.93 L430.92 30.15 L432.52 25.56 L434.12 33.95 L435.72 31.12 L437.32 40.08 L438.92 35.13 L440.52 45.44 L442.12 40.03 L443.72 47.90 L445.32 42.58 L446.92 51.46 L448.52 45.20 L450.12 54.27 L451.72 47.03 L453.32 54.94 L454.92 48.79 L456.52 57.59 L458.12 50.06 L459.72 58.59 L461.32 49.27 L462.92 58.84 L464.52 51.60 L466.12 61.48 L467.72 52.07 L469.32 62.90 L470.92 50.78 L472.52 64.98 L474.12 51.66 L475.72 63.54 L477.32 52.28 L478.92 62.85 L480.52 51.35 L482.12 63.61 L483.72 51.30 L485.32 60.94 L486.92 52.85" stroke="#ff6060" stroke-width="0.5" fill="none"/>
<path d="M355.17 26.52 L355.61 26.34 L356.05 26.15 L356.49 25.96 L356.94 25.76 L357.38 25.57 L357.82 25.39 L358.26 25.23 L358.70 25.09 L359.14 24.97 L359.58 24.89 L360.03 24.83 L360.47 24.80 L360.91 24.80 L361.35 24.80 L361.79 24.80 L362.23 24.80 L362.68 24.80 L363.12 31.39 L363.56 42.95 L364.00 49.08 L364.44 54.33 L364.88 58.85 L365.32 62.83 L365.77 66.42 L366.21 69.79 L366.65 73.12 L367.09 76.36 L367.53 79.37 L367.97 81.99 L368.41 84.08 L368.86 85.49 L369.30 86.41 L369.74 87.11 L370.18 87.70 L370.62 88.27 L371.06 88.86 L371.51 89.44 L371.95 90.00 L372.39 90.56 L372.83 91.09 L373.27 91.59 L373.71 92.05 L374.15 92.47 L374.60 92.84 L375.04 93.16 L375.48 93.41 L375.92 93.60 L376.36 93.70 L376.80 93.73 L377.24 93.73 L377.69 93.71 L378.13 93.70 L378.57 93.68 L379.01 93.65 L379.45 93.62 L379.89 93.58 L380.33 93.54 L380.78 93.50 L381.22 93.45 L381.66 93.39 L382.10 93.33 L382.54 93.27 L382.98 93.20 L383.43 93.13 L383.87 93.06 L384.31 92.98 L384.75 92.90 L385.19 92.82 L385.63 92.73 L386.07 92.65 L386.52 92.56 L386.96 92.46 L387.40 92.37 L387.84 92.27 L388.28 92.17 L388.72 92.07 L389.16 91.97 L389.61 91.87 L390.05 91.77 L390.49 91.66 L390.93 91.56 L391.37 91.45 L391.81 91.35 L392.26 91.24 L392.70 91.13 L393.14 91.03 L393.58 90.92 L394.02 90.82 L394.46 90.71 L394.90 90.61 L395.35 90.51 L395.79 90.40 L396.23 90.30 L396.67 90.21 L397.11 90.10 L397.55 89.99 L397.99 89.87 L398.44 89.74 L398.88 89.61 L399.32 89.47 L399.76 89.33 L400.20 89.18 L400.64 89.03 L401.09 88.87 L401.53 88.71 L401.97 88.54 L402.41 88.37 L402.85 88.20 L403.29 88.02 L403.73 87.84 L404.18 87.66 L404.62 87.48 L405.06 87.30 L405.50 87.12 L405.94 86.93 L406.38 86.75 L406.82 86.56 L407.27 86.38 L407.71 86.19 L408.15 86.01 L408.59 85.83 L409.03 85.65 L409.47 85.47 L409.92 85.30 L410.36 85.13 L410.80 84.96 L411.24 84.80 L411.68 84.64 L412.12 84.48 L412.56 84.33 L413.01 84.18 L413.45 84.04 L413.89 83.91 L414.33 83.78 L414.77 83.66 L415.21 83.54 L415.65 83.44 L416.10 83.33 L416.54 83.24 L416.98 83.16 L417.42 83.08 L417.86 83.02 L418.30 82.96 L418.75 82.91 L419.19 82.87 L419.63 82.85 L420.07 82.83 L420.51 82.82 L420.95 82.83 L421.39 82.85 L421.84 82.88 L422.28 82.92 L422.72 82.97 L423.16 83.03 L423.60 83.09 L424.04 83.17 L424.48 83.26 L424.93 83.35 L425.37 83.44 L425.81 83.55 L426.25 83.66 L426.69 83.77 L427.13 83.89 L427.58 84.01 L428.02 84.14 L428.46 84.27 L428.90 84.40 L429.34 84.53 L429.78 84.66 L430.22 84.80 L430.67 84.93 L431.11 85.06 L431.55 85.19 L431.99 85.32 L432.43 85.45 L432.87 85.57 L433.31 85.69 L433.76 85.80 L434.20 85.91 L434.64 86.02 L435.08 86.12 L435.52 86.21 L435.96 86.29 L436.41 86.37 L436.85 86.44 L437.29 86.50 L437.73 86.55 L438.17 86.60 L438.61 86.63 L439.05 86.65 L439.50 86.66 L439.94 86.68 L440.38 86.69 L440.82 86.71 L441.26 86.72 L441.70 86.73 L442.14 86.75 L442.59 86.76 L443.03 86.77 L443.47 86.79 L443.91 86.80 L444.35 86.81 L444.79 86.82 L445.24 86.83 L445.68 86.84 L446.12 86.85 L446.56 86.86 L447.00 86.87 L447.44 86.88 L447.88 86.89 L448.33 86.90 L448.77 86.91 L449.21 86.92 L449.65 86.93 L450.09 86.94 L450.53 86.94 L450.97 86.95 L451.42 86.96 L451.86 86.96 L452.30 86.97 L452.74 86.98 L453.18 86.98 L453.62 86.99 L454.07 86.99 L454.51 86.99 L454.95 87.00 L455.39 87.00 L455.83 87.00 L456.27 87.01 L456.71 87.01 L457.16 87.01 L457.60 87.01 L458.04 87.01 L458.48 87.01 L458.92 87.01 L459.36 87.01 L459.80 86.99 L460.25 86.96 L460.69 86.91 L461.13 86.86 L461.57 86.80 L462.01 86.72 L462.45 86.63 L462.90 86.54 L463.34 86.42 L463.78 86.30 L464.22 86.17 L464.66 86.02 L465.10 85.86 L465.54 85.69 L465.99 85.50 L466.43 85.31 L466.87 85.10 L467.31 84.88 L467.75 84.64 L468.19 84.40 L468.63 84.14 L469.08 83.86 L469.52 83.58 L469.96 83.28 L470.40 82.84 L470.84 82.11 L471.28 81.10 L471.73 79.85 L472.17 78.40 L472.61 76.77 L473.05 74.99 L473.49 73.10 L473.93 71.13 L474.37 68.85 L474.82 65.93 L475.26 62.53 L475.70 58.83 L476.14 55.01 L476.58 51.25 L477.02 47.08 L477.46 42.46 L477.91 38.05 L478.35 34.53 L478.79 32.14 L479.23 29.91 L479.67 27.92 L480.11 26.30 L480.56 25.21 L481.00 24.80 L481.44 24.80 L481.88 24.80 L482.32 24.80 L482.76 24.80 L483.20 24.80 L483.65 24.80 L484.09 24.80 L484.53 24.80 L484.97 24.80 L485.41 24.80 L485.85 24.80 L486.29 26.55 L486.74 34.16 L487.18 42.51 L487.18 100.95 L486.74 100.95 L486.29 100.95 L485.85 100.97 L485.41 101.16 L484.97 101.54 L484.53 102.08 L484.09 102.74 L483.65 103.49 L483.20 104.29 L482.76 105.11 L482.32 105.92 L481.88 106.68 L481.44 107.35 L481.00 107.91 L480.56 108.45 L480.11 109.02 L479.67 109.56 L479.23 110.00 L478.79 110.28 L478.35 110.34 L477.91 110.31 L477.46 110.26 L477.02 110.19 L476.58 110.11 L476.14 110.02 L475.70 109.90 L475.26 109.75 L474.82 109.59 L474.37 109.42 L473.93 109.25 L473.49 109.08 L473.05 108.90 L472.61 108.70 L472.17 108.51 L471.73 108.30 L471.28 108.10 L470.84 107.89 L470.40 107.68 L469.96 107.48 L469.52 107.28 L469.08 107.08 L468.63 106.87 L468.19 106.66 L467.75 106.45 L467.31 106.24 L466.87 106.02 L466.43 105.81 L465.99 105.60 L465.54 105.38 L465.10 105.17 L464.66 104.95 L464.22 104.74 L463.78 104.53 L463.34 104.32 L462.90 104.11 L462.45 103.90 L462.01 103.69 L461.57 103.49 L461.13 103.29 L460.69 103.10 L460.25 102.91 L459.80 102.72 L459.36 102.53 L458.92 102.36 L458.48 102.18 L458.04 102.01 L457.60 101.84 L457.16 101.67 L456.71 101.51 L456.27 101.35 L455.83 101.19 L455.39 101.03 L454.95 100.87 L454.51 100.72 L454.07 100.57 L453.62 100.41 L453.18 100.27 L452.74 100.12 L452.30 99.97 L451.86 99.83 L451.42 99.68 L450.97 99.54 L450.53 99.39 L450.09 99.25 L449.65 99.11 L449.21 98.97 L448.77 98.83 L448.33 98.69 L447.88 98.55 L447.44 98.41 L447.00 98.27 L446.56 98.13 L446.12 97.99 L445.68 97.85 L445.24 97.71 L444.79 97.57 L444.35 97.42 L443.91 97.28 L443.47 97.14 L443.03 96.99 L442.59 96.84 L442.14 96.69 L441.70 96.55 L441.26 96.39 L440.82 96.24 L440.38 96.09 L439.94 95.93 L439.50 95.77 L439.05 95.61 L438.61 95.45 L438.17 95.27 L437.73 95.09 L437.29 94.90 L436.85 94.70 L436.41 94.50 L435.96 94.29 L435.52 94.07 L435.08 93.85 L434.64 93.63 L434.20 93.40 L433.76 93.17 L433.31 92.94 L432.87 92.71 L432.43 92.48 L431.99 92.24 L431.55 92.01 L431.11 91.78 L430.67 91.55 L430.22 91.32 L429.78 91.10 L429.34 90.88 L428.90 90.66 L428.46 90.45 L428.02 90.25 L427.58 90.05 L427.13 89.86 L426.69 89.67 L426.25 89.50 L425.81 89.33 L425.37 89.17 L424.93 89.03 L424.48 88.89 L424.04 88.77 L423.60 88.65 L423.16 88.56 L422.72 88.47 L422.28 88.40 L421.84 88.34 L421.39 88.30 L420.95 88.27 L420.51 88.26 L420.07 88.27 L419.63 88.29 L419.19 88.32 L418.75 88.37 L418.30 88.43 L417.86 88.49 L417.42 88.57 L416.98 88.67 L416.54 88.77 L416.10 88.88 L415.65 89.00 L415.21 89.13 L414.77 89.27 L414.33 89.42 L413.89 89.57 L413.45 89.73 L413.01 89.90 L412.56 90.08 L412.12 90.26 L411.68 90.45 L411.24 90.65 L410.80 90.85 L410.36 91.05 L409.92 91.26 L409.47 91.47 L409.03 91.69 L408.59 91.91 L408.15 92.13 L407.71 92.35 L407.27 92.58 L406.82 92.81 L406.38 93.03 L405.94 93.26 L405.50 93.49 L405.06 93.72 L404.62 93.94 L404.18 94.17 L403.73 94.40 L403.29 94.62 L402.85 94.84 L402.41 95.06 L401.97 95.27 L401.53 95.48 L401.09 95.69 L400.64 95.89 L400.20 96.09 L399.76 96.28 L399.32 96.47 L398.88 96.65 L398.44 96.82 L397.99 96.99 L397.55 97.15 L397.11 97.30 L396.67 97.45 L396.23 97.58 L395.79 97.72 L395.35 97.85 L394.90 97.98 L394.46 98.11 L394.02 98.24 L393.58 98.37 L393.14 98.50 L392.70 98.62 L392.26 98.75 L391.81 98.87 L391.37 98.99 L390.93 99.11 L390.49 99.23 L390.05 99.35 L389.61 99.47 L389.16 99.59 L388.72 99.70 L388.28 99.82 L387.84 99.93 L387.40 100.05 L386.96 100.16 L386.52 100.27 L386.07 100.39 L385.63 100.50 L385.19 100.61 L384.75 100.72 L384.31 100.83 L383.87 100.94 L383.43 101.05 L382.98 101.15 L382.54 101.26 L382.10 101.37 L381.66 101.48 L381.22 101.59 L380.78 101.69 L380.33 101.80 L379.89 101.91 L379.45 102.02 L379.01 102.12 L378.57 102.23 L378.13 102.34 L377.69 102.44 L377.24 102.55 L376.80 102.66 L376.36 102.77 L375.92 102.86 L375.48 102.94 L375.04 103.02 L374.60 103.10 L374.15 103.17 L373.71 103.25 L373.27 103.33 L372.83 103.41 L372.39 103.51 L371.95 103.61 L371.51 103.73 L371.06 103.87 L370.62 104.02 L370.18 104.20 L369.74 104.44 L369.30 104.84 L368.86 105.38 L368.41 106.11 L367.97 107.15 L367.53 108.45 L367.09 109.96 L366.65 111.64 L366.21 113.44 L365.77 115.53 L365.32 118.03 L364.88 120.86 L364.44 123.99 L364.00 127.33 L363.56 130.82 L363.12 134.77 L362.68 139.31 L362.23 144.13 L361.79 149.27 L361.35 154.83 L360.91 160.92 L360.47 168.17 L360.03 175.90 L359.58 180.60 L359.14 180.65 L358.70 180.65 L358.26 180.65 L357.82 180.65 L357.38 180.65 L356.94 180.65 L356.49 180.65 L356.05 180.65 L355.61 180.65 L355.17 180.65Z" fill="#000000"/>
<path d="M355.17 25.18 L355.62 181.53 L356.07 30.72 L356.52 184.51 L356.97 28.27 L357.42 176.91 L357.87 23.07 L358.32 185.21 L358.77 23.92 L359.22 177.60 L359.67 26.96 L360.12 177.74 L360.57 25.50 L361.02 156.36 L361.47 25.39 L361.92 145.31 L362.37 30.71 L362.82 134.49 L363.27 36.36 L363.72 131.84 L364.17 50.88 L364.62 120.98 L365.07 65.77 L365.52 112.58 L365.97 67.32 L366.42 107.07 L366.87 76.01 L367.32 105.87 L367.77 77.59 L368.22 110.07 L368.67 83.36 L369.12 99.44 L369.57 90.18 L370.02 99.62 L370.47 91.05 L370.92 103.17 L371.37 91.22 L371.82 101.66 L372.27 94.46 L372.72 102.68 L373.17 95.32 L373.62 101.57 L374.07 95.55 L374.52 102.17 L374.97 95.31 L375.42 102.92 L375.87 94.74 L376.32 103.41 L376.77 92.33 L377.22 104.44 L377.67 95.46 L378.12 101.55 L378.57 96.11 L379.02 99.69 L379.47 93.80 L379.92 98.96 L380.37 94.61 L380.82 99.53 L381.27 93.67 L381.72 101.88 L382.17 92.32 L382.62 101.73 L383.07 94.23 L383.52 101.92 L383.97 90.94 L384.42 98.46 L384.87 91.45 L385.32 99.75 L385.77 93.26 L386.22 98.85 L386.67 93.16 L387.12 97.50 L387.57 93.93 L388.02 98.62 L388.47 93.24 L388.92 98.69 L389.37 94.30 L389.82 99.74 L390.27 93.13 L390.72 98.07 L391.17 89.81 L391.62 98.96 L392.07 93.56 L392.52 96.77 L392.97 89.15 L393.42 98.49 L393.87 88.92 L394.32 96.17 L394.77 89.54 L395.22 99.33 L395.67 92.89 L396.12 97.08 L396.57 90.22 L397.02 98.81 L397.47 90.31 L397.92 96.82 L398.37 90.59 L398.82 98.52 L399.27 88.67 L399.72 96.80 L400.17 89.68 L400.62 95.98 L401.07 89.99 L401.52 95.63 L401.97 90.59 L402.42 92.87 L402.87 86.90 L403.32 95.08 L403.77 88.73 L404.22 92.59 L404.67 86.24 L405.12 94.26 L405.57 87.60 L406.02 92.02 L406.47 88.60 L406.92 90.99 L407.37 87.89 L407.82 93.54 L408.27 88.00 L408.72 90.86 L409.17 84.58 L409.62 91.65 L410.07 86.23 L410.52 90.74 L410.97 85.34 L411.42 89.08 L411.87 86.11 L412.32 89.44 L412.77 85.70 L413.22 89.53 L413.67 85.86 L414.12 88.60 L414.57 85.57 L415.02 90.37 L415.47 85.10 L415.92 88.18 L416.37 84.45 L416.82 89.16 L417.27 83.82 L417.72 88.62 L418.17 82.14 L418.62 89.86 L419.07 84.53 L419.52 87.25 L419.97 82.42 L420.42 88.48 L420.87 83.29 L421.32 86.87 L421.77 82.10 L422.22 86.58 L422.67 84.71 L423.12 88.81 L423.57 84.05 L424.02 88.63 L424.47 84.38 L424.92 89.99 L425.37 83.91 L425.82 88.47 L426.27 84.61 L426.72 88.48 L427.17 85.62 L427.62 90.38 L428.07 83.37 L428.52 90.22 L428.97 85.22 L429.42 88.82 L429.87 85.97 L430.32 89.89 L430.77 87.09 L431.22 92.08 L431.67 84.84 L432.12 91.90 L432.57 85.25 L433.02 91.47 L433.47 88.00 L433.92 94.13 L434.37 86.71 L434.82 92.22 L435.27 86.84 L435.72 91.73 L436.17 88.06 L436.62 92.20 L437.07 85.17 L437.52 95.70 L437.97 84.91 L438.42 93.03 L438.87 89.55 L439.32 97.97 L439.77 88.98 L440.22 93.99 L440.67 89.62 L441.12 96.63 L441.57 88.88 L442.02 97.16 L442.47 85.10 L442.92 94.65 L443.37 84.75 L443.82 95.11 L444.27 86.71 L444.72 96.50 L445.17 90.14 L445.62 98.33 L446.07 87.95 L446.52 97.85 L446.97 86.07 L447.42 97.37 L447.87 86.00 L448.32 95.73 L448.77 88.98 L449.22 99.22 L449.67 91.06 L450.12 99.05 L450.57 89.44 L451.02 96.77 L451.47 86.65 L451.92 103.05 L452.37 90.90 L452.82 95.89 L453.27 85.76 L453.72 101.93 L454.17 87.97 L454.62 98.63 L455.07 91.75 L455.52 96.47 L455.97 91.85 L456.42 102.07 L456.87 89.30 L457.32 100.72 L457.77 86.18 L458.22 104.91 L458.67 85.47 L459.12 102.07 L459.57 84.38 L460.02 104.66 L460.47 83.56 L460.92 100.52 L461.37 88.52 L461.82 104.53 L462.27 88.78 L462.72 103.08 L463.17 89.91 L463.62 98.94 L464.07 86.79 L464.52 101.72 L464.97 84.91 L465.42 99.33 L465.87 89.13 L466.32 108.19 L466.77 84.50 L467.22 108.77 L467.67 82.79 L468.12 107.32 L468.57 89.17 L469.02 106.07 L469.47 82.61 L469.92 106.92 L470.37 81.52 L470.82 104.08 L471.27 76.47 L471.72 109.27 L472.17 77.68 L472.62 111.13 L473.07 78.69 L473.52 111.54 L473.97 70.11 L474.42 113.98 L474.87 69.52 L475.32 109.85 L475.77 61.25 L476.22 111.97 L476.67 45.14 L477.12 110.80 L477.57 45.58 L478.02 105.57 L478.47 33.53 L478.92 105.41 L479.37 24.59 L479.82 107.90 L480.27 24.44 L480.72 107.59 L481.17 22.92 L481.62 101.57 L482.07 23.96 L482.52 99.44 L482.97 21.23 L483.42 102.87 L483.87 25.62 L484.32 98.62 L484.77 24.49 L485.22 99.90 L485.67 20.54 L486.12 101.68 L486.57 34.59 L487.02 104.58" stroke="#000" stroke-width="0.55" fill="none"/>
<line x1="479.5" y1="142.6" x2="479.5" y2="195.7" stroke="#202020" stroke-width="0.7"/>
<line x1="481.7" y1="142.6" x2="481.7" y2="195.7" stroke="#202020" stroke-width="0.7"/>
<line x1="362.8" y1="107.1" x2="362.8" y2="195.7" stroke="#202020" stroke-width="0.7"/>
<line x1="357.3" y1="142.6" x2="357.3" y2="195.7" stroke="#202020" stroke-width="0.7"/>
<circle cx="420.8" cy="85.1" r="3.3" fill="#000"/>
<path d="M355.49 26.57 L355.82 26.64 L356.15 26.70 L356.48 26.77 L356.81 26.83 L357.14 26.89 L357.47 26.96 L357.79 27.02 L358.12 27.09 L358.45 27.16 L358.78 27.24 L359.11 27.33 L359.44 27.42 L359.77 27.52 L360.10 27.65 L360.43 27.79 L360.76 27.95 L361.09 28.12 L361.41 28.35 L361.74 29.47 L362.07 31.85 L362.40 35.12 L362.73 38.89 L363.06 42.79 L363.39 46.44 L363.72 49.65 L364.05 52.99 L364.38 56.47 L364.71 59.98 L365.03 63.43 L365.36 66.72 L365.69 69.76 L366.02 72.45 L366.35 74.73 L366.68 76.87 L367.01 78.92 L367.34 80.86 L367.67 82.63 L368.00 84.20 L368.32 85.53 L368.65 86.57 L368.98 87.31 L369.31 87.89 L369.64 88.36 L369.97 88.77 L370.30 89.17 L370.63 89.54 L370.96 89.89 L371.29 90.21 L371.62 90.53 L371.94 90.83 L372.27 91.11 L372.60 91.40 L372.93 91.67 L373.26 91.95 L373.59 92.23 L373.92 92.51 L374.25 92.81 L374.58 93.15 L374.91 93.52 L375.24 93.89 L375.56 94.24 L375.89 94.53 L376.22 94.75 L376.55 94.87 L376.88 94.89 L377.21 94.89 L377.54 94.88 L377.87 94.88 L378.20 94.87 L378.53 94.86 L378.86 94.85 L379.18 94.84 L379.51 94.83 L379.84 94.81 L380.17 94.80 L380.50 94.78 L380.83 94.76 L381.16 94.74 L381.49 94.72 L381.82 94.70 L382.15 94.68 L382.48 94.65 L382.80 94.63 L383.13 94.60 L383.46 94.57 L383.79 94.54 L384.12 94.51 L384.45 94.48 L384.78 94.45 L385.11 94.42 L385.44 94.39 L385.77 94.36 L386.09 94.32 L386.42 94.29 L386.75 94.25 L387.08 94.22 L387.41 94.18 L387.74 94.14 L388.07 94.11 L388.40 94.07 L388.73 94.03 L389.06 93.99 L389.39 93.95 L389.71 93.92 L390.04 93.88 L390.37 93.84 L390.70 93.80 L391.03 93.76 L391.36 93.72 L391.69 93.68 L392.02 93.64 L392.35 93.60 L392.68 93.56 L393.01 93.52 L393.33 93.49 L393.66 93.45 L393.99 93.41 L394.32 93.37 L394.65 93.33 L394.98 93.30 L395.31 93.26 L395.64 93.22 L395.97 93.19 L396.30 93.15 L396.63 93.12 L396.95 93.08 L397.28 93.05 L397.61 93.01 L397.94 92.97 L398.27 92.92 L398.60 92.88 L398.93 92.84 L399.26 92.79 L399.59 92.74 L399.92 92.70 L400.25 92.65 L400.57 92.60 L400.90 92.55 L401.23 92.49 L401.56 92.44 L401.89 92.39 L402.22 92.33 L402.55 92.28 L402.88 92.23 L403.21 92.17 L403.54 92.12 L403.87 92.06 L404.19 92.00 L404.52 91.95 L404.85 91.89 L405.18 91.84 L405.51 91.78 L405.84 91.72 L406.17 91.67 L406.50 91.61 L406.83 91.56 L407.16 91.51 L407.48 91.45 L407.81 91.40 L408.14 91.35 L408.47 91.30 L408.80 91.25 L409.13 91.20 L409.46 91.15 L409.79 91.10 L410.12 91.05 L410.45 91.01 L410.78 90.96 L411.10 90.92 L411.43 90.88 L411.76 90.84 L412.09 90.80 L412.42 90.76 L412.75 90.73 L413.08 90.70 L413.41 90.66 L413.74 90.63 L414.07 90.61 L414.40 90.58 L414.72 90.56 L415.05 90.54 L415.38 90.52 L415.71 90.50 L416.04 90.49 L416.37 90.47 L416.70 90.46 L417.03 90.46 L417.36 90.45 L417.69 90.45 L418.02 90.46 L418.34 90.47 L418.67 90.49 L419.00 90.52 L419.33 90.56 L419.66 90.60 L419.99 90.65 L420.32 90.71 L420.65 90.78 L420.98 90.85 L421.31 90.93 L421.64 91.02 L421.96 91.11 L422.29 91.21 L422.62 91.31 L422.95 91.42 L423.28 91.54 L423.61 91.66 L423.94 91.78 L424.27 91.92 L424.60 92.05 L424.93 92.19 L425.25 92.34 L425.58 92.49 L425.91 92.64 L426.24 92.80 L426.57 92.96 L426.90 93.13 L427.23 93.30 L427.56 93.47 L427.89 93.65 L428.22 93.83 L428.55 94.01 L428.87 94.19 L429.20 94.38 L429.53 94.57 L429.86 94.76 L430.19 94.95 L430.52 95.15 L430.85 95.35 L431.18 95.54 L431.51 95.74 L431.84 95.94 L432.17 96.14 L432.49 96.34 L432.82 96.55 L433.15 96.75 L433.48 96.95 L433.81 97.15 L434.14 97.36 L434.47 97.56 L434.80 97.76 L435.13 97.96 L435.46 98.16 L435.79 98.36 L436.11 98.56 L436.44 98.75 L436.77 98.95 L437.10 99.14 L437.43 99.33 L437.76 99.52 L438.09 99.70 L438.42 99.89 L438.75 100.07 L439.08 100.25 L439.41 100.43 L439.73 100.61 L440.06 100.80 L440.39 100.99 L440.72 101.18 L441.05 101.37 L441.38 101.57 L441.71 101.77 L442.04 101.98 L442.37 102.18 L442.70 102.39 L443.02 102.60 L443.35 102.82 L443.68 103.03 L444.01 103.25 L444.34 103.47 L444.67 103.69 L445.00 103.91 L445.33 104.14 L445.66 104.36 L445.99 104.59 L446.32 104.82 L446.64 105.04 L446.97 105.27 L447.30 105.50 L447.63 105.73 L447.96 105.97 L448.29 106.20 L448.62 106.43 L448.95 106.66 L449.28 106.89 L449.61 107.12 L449.94 107.36 L450.26 107.59 L450.59 107.82 L450.92 108.05 L451.25 108.28 L451.58 108.51 L451.91 108.74 L452.24 108.96 L452.57 109.19 L452.90 109.41 L453.23 109.64 L453.56 109.86 L453.88 110.08 L454.21 110.30 L454.54 110.51 L454.87 110.73 L455.20 110.94 L455.53 111.15 L455.86 111.36 L456.19 111.56 L456.52 111.76 L456.85 111.96 L457.18 112.16 L457.50 112.36 L457.83 112.55 L458.16 112.73 L458.49 112.92 L458.82 113.10 L459.15 113.28 L459.48 113.46 L459.81 113.64 L460.14 113.83 L460.47 114.01 L460.79 114.19 L461.12 114.38 L461.45 114.56 L461.78 114.74 L462.11 114.92 L462.44 115.10 L462.77 115.28 L463.10 115.46 L463.43 115.64 L463.76 115.81 L464.09 115.98 L464.41 116.15 L464.74 116.32 L465.07 116.49 L465.40 116.65 L465.73 116.81 L466.06 116.96 L466.39 117.12 L466.72 117.26 L467.05 117.41 L467.38 117.55 L467.71 117.68 L468.03 117.81 L468.36 117.94 L468.69 118.06 L469.02 118.17 L469.35 118.28 L469.68 118.38 L470.01 118.48 L470.34 118.57 L470.67 118.68 L471.00 118.77 L471.33 118.85 L471.65 118.91 L471.98 118.94 L472.31 118.92 L472.64 118.85 L472.97 118.65 L473.30 118.17 L473.63 117.52 L473.96 116.84 L474.29 116.06 L474.62 115.01 L474.95 113.78 L475.27 112.43 L475.60 111.01 L475.93 109.58 L476.26 108.02 L476.59 106.32 L476.92 104.66 L477.25 103.23 L477.58 102.10 L477.91 101.14 L478.24 100.39 L478.56 99.74 L478.89 99.10 L479.22 98.49 L479.55 97.94 L479.88 97.46 L480.21 96.99 L480.54 96.54 L480.87 96.11 L481.20 95.69 L481.53 95.30 L481.86 94.93 L482.18 94.59 L482.51 94.28 L482.84 93.99 L483.17 93.73 L483.50 93.47 L483.83 93.20 L484.16 92.94 L484.49 92.70 L484.82 92.49 L485.15 92.32 L485.48 92.19 L485.80 92.11 L486.13 92.24 L486.46 93.76 L486.79 95.64 L486.79 184.19 L486.46 184.19 L486.13 184.19 L485.80 184.19 L485.48 184.19 L485.15 184.19 L484.82 184.19 L484.49 184.19 L484.16 184.19 L483.83 184.19 L483.50 184.19 L483.17 184.19 L482.84 184.19 L482.51 184.19 L482.18 184.19 L481.86 184.19 L481.53 184.19 L481.20 184.19 L480.87 184.19 L480.54 184.19 L480.21 184.19 L479.88 184.19 L479.55 184.06 L479.22 182.29 L478.89 179.23 L478.56 175.94 L478.24 172.87 L477.91 169.66 L477.58 166.43 L477.25 163.63 L476.92 161.44 L476.59 159.56 L476.26 157.77 L475.93 155.90 L475.60 153.88 L475.27 151.81 L474.95 149.73 L474.62 147.68 L474.29 145.69 L473.96 143.80 L473.63 141.94 L473.30 140.07 L472.97 138.22 L472.64 136.38 L472.31 134.56 L471.98 132.78 L471.65 130.83 L471.33 128.77 L471.00 126.76 L470.67 125.00 L470.34 123.66 L470.01 122.92 L469.68 122.55 L469.35 122.21 L469.02 121.89 L468.69 121.59 L468.36 121.32 L468.03 121.06 L467.71 120.82 L467.38 120.60 L467.05 120.40 L466.72 120.21 L466.39 120.03 L466.06 119.87 L465.73 119.72 L465.40 119.58 L465.07 119.45 L464.74 119.32 L464.41 119.21 L464.09 119.10 L463.76 118.99 L463.43 118.89 L463.10 118.79 L462.77 118.69 L462.44 118.59 L462.11 118.48 L461.78 118.38 L461.45 118.27 L461.12 118.16 L460.79 118.04 L460.47 117.92 L460.14 117.78 L459.81 117.64 L459.48 117.48 L459.15 117.32 L458.82 117.14 L458.49 116.95 L458.16 116.76 L457.83 116.57 L457.50 116.37 L457.18 116.18 L456.85 115.98 L456.52 115.78 L456.19 115.57 L455.86 115.37 L455.53 115.16 L455.20 114.95 L454.87 114.74 L454.54 114.53 L454.21 114.32 L453.88 114.10 L453.56 113.89 L453.23 113.67 L452.90 113.45 L452.57 113.23 L452.24 113.01 L451.91 112.79 L451.58 112.57 L451.25 112.35 L450.92 112.12 L450.59 111.90 L450.26 111.68 L449.94 111.45 L449.61 111.23 L449.28 111.01 L448.95 110.78 L448.62 110.56 L448.29 110.34 L447.96 110.11 L447.63 109.89 L447.30 109.67 L446.97 109.45 L446.64 109.22 L446.32 109.00 L445.99 108.79 L445.66 108.57 L445.33 108.35 L445.00 108.13 L444.67 107.92 L444.34 107.71 L444.01 107.49 L443.68 107.28 L443.35 107.08 L443.02 106.87 L442.70 106.66 L442.37 106.46 L442.04 106.26 L441.71 106.06 L441.38 105.86 L441.05 105.67 L440.72 105.48 L440.39 105.29 L440.06 105.10 L439.73 104.91 L439.41 104.73 L439.08 104.55 L438.75 104.38 L438.42 104.19 L438.09 104.01 L437.76 103.82 L437.43 103.64 L437.10 103.44 L436.77 103.25 L436.44 103.05 L436.11 102.86 L435.79 102.66 L435.46 102.46 L435.13 102.26 L434.80 102.05 L434.47 101.85 L434.14 101.65 L433.81 101.44 L433.48 101.24 L433.15 101.03 L432.82 100.83 L432.49 100.62 L432.17 100.42 L431.84 100.22 L431.51 100.01 L431.18 99.81 L430.85 99.61 L430.52 99.41 L430.19 99.21 L429.86 99.02 L429.53 98.82 L429.20 98.63 L428.87 98.44 L428.55 98.25 L428.22 98.07 L427.89 97.89 L427.56 97.71 L427.23 97.53 L426.90 97.36 L426.57 97.19 L426.24 97.02 L425.91 96.86 L425.58 96.70 L425.25 96.55 L424.93 96.40 L424.60 96.26 L424.27 96.12 L423.94 95.99 L423.61 95.86 L423.28 95.73 L422.95 95.61 L422.62 95.50 L422.29 95.40 L421.96 95.29 L421.64 95.20 L421.31 95.11 L420.98 95.03 L420.65 94.96 L420.32 94.89 L419.99 94.83 L419.66 94.78 L419.33 94.73 L419.00 94.69 L418.67 94.66 L418.34 94.64 L418.02 94.63 L417.69 94.63 L417.36 94.63 L417.03 94.63 L416.70 94.64 L416.37 94.64 L416.04 94.65 L415.71 94.67 L415.38 94.68 L415.05 94.70 L414.72 94.72 L414.40 94.74 L414.07 94.76 L413.74 94.79 L413.41 94.81 L413.08 94.84 L412.75 94.87 L412.42 94.90 L412.09 94.94 L411.76 94.97 L411.43 95.01 L411.10 95.05 L410.78 95.09 L410.45 95.13 L410.12 95.17 L409.79 95.21 L409.46 95.26 L409.13 95.30 L408.80 95.35 L408.47 95.40 L408.14 95.45 L407.81 95.50 L407.48 95.55 L407.16 95.60 L406.83 95.65 L406.50 95.71 L406.17 95.76 L405.84 95.82 L405.51 95.87 L405.18 95.93 L404.85 95.98 L404.52 96.04 L404.19 96.10 L403.87 96.16 L403.54 96.21 L403.21 96.27 L402.88 96.33 L402.55 96.39 L402.22 96.45 L401.89 96.51 L401.56 96.57 L401.23 96.63 L400.90 96.69 L400.57 96.74 L400.25 96.80 L399.92 96.86 L399.59 96.92 L399.26 96.98 L398.93 97.03 L398.60 97.09 L398.27 97.15 L397.94 97.20 L397.61 97.26 L397.28 97.31 L396.95 97.37 L396.63 97.42 L396.30 97.47 L395.97 97.53 L395.64 97.58 L395.31 97.64 L394.98 97.69 L394.65 97.75 L394.32 97.81 L393.99 97.87 L393.66 97.93 L393.33 97.99 L393.01 98.06 L392.68 98.12 L392.35 98.18 L392.02 98.25 L391.69 98.31 L391.36 98.38 L391.03 98.44 L390.70 98.51 L390.37 98.58 L390.04 98.65 L389.71 98.71 L389.39 98.78 L389.06 98.85 L388.73 98.92 L388.40 98.99 L388.07 99.06 L387.74 99.13 L387.41 99.20 L387.08 99.27 L386.75 99.34 L386.42 99.41 L386.09 99.48 L385.77 99.55 L385.44 99.63 L385.11 99.70 L384.78 99.77 L384.45 99.84 L384.12 99.91 L383.79 99.98 L383.46 100.05 L383.13 100.11 L382.80 100.18 L382.48 100.25 L382.15 100.32 L381.82 100.39 L381.49 100.45 L381.16 100.52 L380.83 100.59 L380.50 100.65 L380.17 100.72 L379.84 100.78 L379.51 100.84 L379.18 100.91 L378.86 100.97 L378.53 101.03 L378.20 101.09 L377.87 101.15 L377.54 101.21 L377.21 101.26 L376.88 101.32 L376.55 101.37 L376.22 101.42 L375.89 101.47 L375.56 101.51 L375.24 101.56 L374.91 101.61 L374.58 101.66 L374.25 101.72 L373.92 101.78 L373.59 101.86 L373.26 101.93 L372.93 102.01 L372.60 102.10 L372.27 102.19 L371.94 102.29 L371.62 102.41 L371.29 102.54 L370.96 102.68 L370.63 102.84 L370.30 103.01 L369.97 103.21 L369.64 103.52 L369.31 103.93 L368.98 104.40 L368.65 104.90 L368.32 105.42 L368.00 105.98 L367.67 106.60 L367.34 107.29 L367.01 108.06 L366.68 108.92 L366.35 109.88 L366.02 111.01 L365.69 112.46 L365.36 114.20 L365.03 116.20 L364.71 118.42 L364.38 120.82 L364.05 123.35 L363.72 125.98 L363.39 128.70 L363.06 131.76 L362.73 135.17 L362.40 138.84 L362.07 142.71 L361.74 146.69 L361.41 150.72 L361.09 154.95 L360.76 159.79 L360.43 166.29 L360.10 172.94 L359.77 177.73 L359.44 178.88 L359.11 178.88 L358.78 178.88 L358.45 178.88 L358.12 178.88 L357.79 178.88 L357.47 178.88 L357.14 178.88 L356.81 178.88 L356.48 178.88 L356.15 178.88 L355.82 178.88 L355.49 178.88Z" fill="#00ff00"/>
<path d="M355.49 22.59 L355.94 180.55 L356.39 31.21 L356.84 176.59 L357.29 23.14 L357.74 178.17 L358.19 28.33 L358.64 181.64 L359.09 31.11 L359.54 182.37 L359.99 27.83 L360.44 164.24 L360.89 28.70 L361.34 149.33 L361.79 33.48 L362.24 134.71 L362.69 37.28 L363.14 128.02 L363.59 51.84 L364.04 124.30 L364.49 51.58 L364.94 110.80 L365.39 66.09 L365.84 112.22 L366.29 80.10 L366.74 105.95 L367.19 81.62 L367.64 103.28 L368.09 82.02 L368.54 102.68 L368.99 87.73 L369.44 105.11 L369.89 90.37 L370.34 100.35 L370.79 89.30 L371.24 101.24 L371.69 90.63 L372.14 100.66 L372.59 92.83 L373.04 102.29 L373.49 93.73 L373.94 100.69 L374.39 94.06 L374.84 100.32 L375.29 94.34 L375.74 100.50 L376.19 95.95 L376.64 101.91 L377.09 95.96 L377.54 100.91 L377.99 95.22 L378.44 101.27 L378.89 95.56 L379.34 100.68 L379.79 95.76 L380.24 100.50 L380.69 95.17 L381.14 100.04 L381.59 95.18 L382.04 100.26 L382.49 94.28 L382.94 99.08 L383.39 95.22 L383.84 99.18 L384.29 95.37 L384.74 99.65 L385.19 95.17 L385.64 99.55 L386.09 95.22 L386.54 98.59 L386.99 94.63 L387.44 97.96 L387.89 94.78 L388.34 98.05 L388.79 93.42 L389.24 98.51 L389.69 93.41 L390.14 98.66 L390.59 93.60 L391.04 97.52 L391.49 93.33 L391.94 98.17 L392.39 93.86 L392.84 97.25 L393.29 94.37 L393.74 97.29 L394.19 93.22 L394.64 97.37 L395.09 93.85 L395.54 98.08 L395.99 93.72 L396.44 97.34 L396.89 93.51 L397.34 96.79 L397.79 93.50 L398.24 96.84 L398.69 93.24 L399.14 97.17 L399.59 93.03 L400.04 97.14 L400.49 92.88 L400.94 96.35 L401.39 93.10 L401.84 96.39 L402.29 91.78 L402.74 96.05 L403.19 92.04 L403.64 95.63 L404.09 92.17 L404.54 95.93 L404.99 92.65 L405.44 95.75 L405.89 91.80 L406.34 95.67 L406.79 91.83 L407.24 95.95 L407.69 91.77 L408.14 94.68 L408.59 91.65 L409.04 94.74 L409.49 91.96 L409.94 94.50 L410.39 91.60 L410.84 94.42 L411.29 91.57 L411.74 95.05 L412.19 91.05 L412.64 94.82 L413.09 90.64 L413.54 94.43 L413.99 90.65 L414.44 94.30 L414.89 90.94 L415.34 95.03 L415.79 90.71 L416.24 94.51 L416.69 91.01 L417.14 95.01 L417.59 90.24 L418.04 94.33 L418.49 90.64 L418.94 94.19 L419.39 90.62 L419.84 94.97 L420.29 91.51 L420.74 95.06 L421.19 90.64 L421.64 95.23 L422.09 91.21 L422.54 95.59 L422.99 91.77 L423.44 94.98 L423.89 91.47 L424.34 95.98 L424.79 92.64 L425.24 95.79 L425.69 93.43 L426.14 97.24 L426.59 93.32 L427.04 96.67 L427.49 92.97 L427.94 97.51 L428.39 93.71 L428.84 97.79 L429.29 95.26 L429.74 98.60 L430.19 94.34 L430.64 99.93 L431.09 95.67 L431.54 99.31 L431.99 95.94 L432.44 100.08 L432.89 96.75 L433.34 101.20 L433.79 97.70 L434.24 101.69 L434.69 97.81 L435.14 101.63 L435.59 98.53 L436.04 102.16 L436.49 99.10 L436.94 103.59 L437.39 99.53 L437.84 103.11 L438.29 100.20 L438.74 103.51 L439.19 99.64 L439.64 104.80 L440.09 101.45 L440.54 104.83 L440.99 101.72 L441.44 105.39 L441.89 102.65 L442.34 105.91 L442.79 102.81 L443.24 106.63 L443.69 103.55 L444.14 107.54 L444.59 104.15 L445.04 107.72 L445.49 104.89 L445.94 108.49 L446.39 104.33 L446.84 109.02 L447.29 106.22 L447.74 109.50 L448.19 106.59 L448.64 110.44 L449.09 106.85 L449.54 110.63 L449.99 107.00 L450.44 111.08 L450.89 108.75 L451.34 111.59 L451.79 108.38 L452.24 113.32 L452.69 110.01 L453.14 113.47 L453.59 109.84 L454.04 114.08 L454.49 110.95 L454.94 115.01 L455.39 111.32 L455.84 114.89 L456.29 112.17 L456.74 116.48 L457.19 112.81 L457.64 116.26 L458.09 112.89 L458.54 116.62 L458.99 113.17 L459.44 116.74 L459.89 113.57 L460.34 117.56 L460.79 114.03 L461.24 117.85 L461.69 115.44 L462.14 117.93 L462.59 115.07 L463.04 118.52 L463.49 116.41 L463.94 119.31 L464.39 116.46 L464.84 119.13 L465.29 117.22 L465.74 119.75 L466.19 117.58 L466.64 120.00 L467.09 117.71 L467.54 120.52 L467.99 118.28 L468.44 121.07 L468.89 118.52 L469.34 122.21 L469.79 118.65 L470.24 122.43 L470.69 118.37 L471.14 128.13 L471.59 117.30 L472.04 130.66 L472.49 122.34 L472.94 138.52 L473.39 117.75 L473.84 144.16 L474.29 119.03 L474.74 146.17 L475.19 118.07 L475.64 156.00 L476.09 113.85 L476.54 158.33 L476.99 108.79 L477.44 160.71 L477.89 106.58 L478.34 172.52 L478.79 101.87 L479.24 180.33 L479.69 95.41 L480.14 182.74 L480.59 101.96 L481.04 178.79 L481.49 89.94 L481.94 181.09 L482.39 93.86 L482.84 187.32 L483.29 90.55 L483.74 179.83 L484.19 98.75 L484.64 182.54 L485.09 92.48 L485.54 182.65 L485.99 96.77 L486.44 180.28" stroke="#00f000" stroke-width="0.5" fill="none"/>
<line x1="355.5" y1="142.6" x2="355.5" y2="190.4" stroke="#b8ffb8" stroke-width="0.5"/>
<line x1="356.4" y1="142.6" x2="356.4" y2="190.4" stroke="#b8ffb8" stroke-width="0.5"/>
<line x1="357.3" y1="142.6" x2="357.3" y2="190.4" stroke="#b8ffb8" stroke-width="0.5"/>
<line x1="358.2" y1="142.6" x2="358.2" y2="190.4" stroke="#b8ffb8" stroke-width="0.5"/>
<line x1="359.1" y1="142.6" x2="359.1" y2="190.4" stroke="#b8ffb8" stroke-width="0.5"/>
<line x1="360.0" y1="142.6" x2="360.0" y2="190.4" stroke="#b8ffb8" stroke-width="0.5"/>
<line x1="477.9" y1="142.6" x2="477.9" y2="190.4" stroke="#b8ffb8" stroke-width="0.5"/>
<line x1="478.8" y1="142.6" x2="478.8" y2="190.4" stroke="#b8ffb8" stroke-width="0.5"/>
<line x1="479.7" y1="142.6" x2="479.7" y2="190.4" stroke="#b8ffb8" stroke-width="0.5"/>
<line x1="480.6" y1="142.6" x2="480.6" y2="190.4" stroke="#b8ffb8" stroke-width="0.5"/>
<line x1="481.5" y1="142.6" x2="481.5" y2="190.4" stroke="#b8ffb8" stroke-width="0.5"/>
<line x1="482.4" y1="142.6" x2="482.4" y2="190.4" stroke="#b8ffb8" stroke-width="0.5"/>
<line x1="483.3" y1="142.6" x2="483.3" y2="190.4" stroke="#b8ffb8" stroke-width="0.5"/>
<line x1="484.2" y1="142.6" x2="484.2" y2="190.4" stroke="#b8ffb8" stroke-width="0.5"/>
<line x1="485.1" y1="142.6" x2="485.1" y2="190.4" stroke="#b8ffb8" stroke-width="0.5"/>
<line x1="486.0" y1="142.6" x2="486.0" y2="190.4" stroke="#b8ffb8" stroke-width="0.5"/>
<line x1="335.1" y1="5" x2="335.1" y2="195.5" stroke="#4646e6" stroke-width="1.9" stroke-dasharray="5.5 2.8"/>
<line x1="506.3" y1="5" x2="506.3" y2="195.5" stroke="#4646e6" stroke-width="1.9" stroke-dasharray="5.5 2.8"/>
<line x1="355.5" y1="11.5" x2="355.5" y2="195.5" stroke="#2828d8" stroke-width="1.6" stroke-dasharray="5.5 2.8"/>
<line x1="486.8" y1="11.5" x2="486.8" y2="195.5" stroke="#2828d8" stroke-width="1.6" stroke-dasharray="5.5 2.8"/>
<path d="M342 5.5 H367.5 M472.6 5.5 H499 M360.4 14.5 H395.4 M443.9 13.5 H480.6" stroke="#2020ff" stroke-width="1"/>
<path d="M338.8 5.5 l4.5 -2.3 v4.6z M502.2 5.5 l-4.5 -2.3 v4.6z M357.4 14.5 l4.5 -2.3 v4.6z M483.6 13.5 l-4.5 -2.3 v4.6z" fill="#2020ff"/>
<text x="379" y="7.3" font-size="10.8" fill="#2a2ae6" stroke="#2a2ae6" stroke-width="0.45" textLength="83" lengthAdjust="spacingAndGlyphs">Doppler Bandwidth</text>
<text x="409" y="17.1" font-size="9.8" fill="#2a2ae6" stroke="#2a2ae6" stroke-width="0.45" textLength="21" lengthAdjust="spacingAndGlyphs">1/PRI</text>
<rect x="299.1" y="2.6" width="244.1" height="193.1" fill="none" stroke="#707070" stroke-width="1"/>
<line x1="299.1" y1="195.7" x2="299.1" y2="193.5" stroke="#707070" stroke-width="0.8"/>
<line x1="299.1" y1="2.6" x2="299.1" y2="4.8" stroke="#707070" stroke-width="0.8"/>
<line x1="331.2" y1="195.7" x2="331.2" y2="193.5" stroke="#707070" stroke-width="0.8"/>
<line x1="331.2" y1="2.6" x2="331.2" y2="4.8" stroke="#707070" stroke-width="0.8"/>
<line x1="363.4" y1="195.7" x2="363.4" y2="193.5" stroke="#707070" stroke-width="0.8"/>
<line x1="363.4" y1="2.6" x2="363.4" y2="4.8" stroke="#707070" stroke-width="0.8"/>
<line x1="395.6" y1="195.7" x2="395.6" y2="193.5" stroke="#707070" stroke-width="0.8"/>
<line x1="395.6" y1="2.6" x2="395.6" y2="4.8" stroke="#707070" stroke-width="0.8"/>
<line x1="427.7" y1="195.7" x2="427.7" y2="193.5" stroke="#707070" stroke-width="0.8"/>
<line x1="427.7" y1="2.6" x2="427.7" y2="4.8" stroke="#707070" stroke-width="0.8"/>
<line x1="459.9" y1="195.7" x2="459.9" y2="193.5" stroke="#707070" stroke-width="0.8"/>
<line x1="459.9" y1="2.6" x2="459.9" y2="4.8" stroke="#707070" stroke-width="0.8"/>
<line x1="492.0" y1="195.7" x2="492.0" y2="193.5" stroke="#707070" stroke-width="0.8"/>
<line x1="492.0" y1="2.6" x2="492.0" y2="4.8" stroke="#707070" stroke-width="0.8"/>
<line x1="524.1" y1="195.7" x2="524.1" y2="193.5" stroke="#707070" stroke-width="0.8"/>
<line x1="524.1" y1="2.6" x2="524.1" y2="4.8" stroke="#707070" stroke-width="0.8"/>
<line x1="299.1" y1="195.7" x2="301.3" y2="195.7" stroke="#707070" stroke-width="0.8"/>
<line x1="543.2" y1="195.7" x2="541" y2="195.7" stroke="#707070" stroke-width="0.8"/>
<line x1="299.1" y1="178.0" x2="301.3" y2="178.0" stroke="#707070" stroke-width="0.8"/>
<line x1="543.2" y1="178.0" x2="541" y2="178.0" stroke="#707070" stroke-width="0.8"/>
<line x1="299.1" y1="160.3" x2="301.3" y2="160.3" stroke="#707070" stroke-width="0.8"/>
<line x1="543.2" y1="160.3" x2="541" y2="160.3" stroke="#707070" stroke-width="0.8"/>
<line x1="299.1" y1="142.6" x2="301.3" y2="142.6" stroke="#707070" stroke-width="0.8"/>
<line x1="543.2" y1="142.6" x2="541" y2="142.6" stroke="#707070" stroke-width="0.8"/>
<line x1="299.1" y1="124.9" x2="301.3" y2="124.9" stroke="#707070" stroke-width="0.8"/>
<line x1="543.2" y1="124.9" x2="541" y2="124.9" stroke="#707070" stroke-width="0.8"/>
<line x1="299.1" y1="107.1" x2="301.3" y2="107.1" stroke="#707070" stroke-width="0.8"/>
<line x1="543.2" y1="107.1" x2="541" y2="107.1" stroke="#707070" stroke-width="0.8"/>
<line x1="299.1" y1="89.4" x2="301.3" y2="89.4" stroke="#707070" stroke-width="0.8"/>
<line x1="543.2" y1="89.4" x2="541" y2="89.4" stroke="#707070" stroke-width="0.8"/>
<line x1="299.1" y1="71.7" x2="301.3" y2="71.7" stroke="#707070" stroke-width="0.8"/>
<line x1="543.2" y1="71.7" x2="541" y2="71.7" stroke="#707070" stroke-width="0.8"/>
<line x1="299.1" y1="54.0" x2="301.3" y2="54.0" stroke="#707070" stroke-width="0.8"/>
<line x1="543.2" y1="54.0" x2="541" y2="54.0" stroke="#707070" stroke-width="0.8"/>
<line x1="299.1" y1="36.3" x2="301.3" y2="36.3" stroke="#707070" stroke-width="0.8"/>
<line x1="543.2" y1="36.3" x2="541" y2="36.3" stroke="#707070" stroke-width="0.8"/>
<line x1="299.1" y1="18.6" x2="301.3" y2="18.6" stroke="#707070" stroke-width="0.8"/>
<line x1="543.2" y1="18.6" x2="541" y2="18.6" stroke="#707070" stroke-width="0.8"/>
<text x="299.1" y="205" font-size="7.2" fill="#404040" text-anchor="middle">0</text>
<text x="331.2" y="205" font-size="7.2" fill="#404040" text-anchor="middle">500</text>
<text x="363.4" y="205" font-size="7.2" fill="#404040" text-anchor="middle">1000</text>
<text x="395.6" y="205" font-size="7.2" fill="#404040" text-anchor="middle">1500</text>
<text x="427.7" y="205" font-size="7.2" fill="#404040" text-anchor="middle">2000</text>
<text x="459.9" y="205" font-size="7.2" fill="#404040" text-anchor="middle">2500</text>
<text x="492.0" y="205" font-size="7.2" fill="#404040" text-anchor="middle">3000</text>
<text x="524.1" y="205" font-size="7.2" fill="#404040" text-anchor="middle">3500</text>
<text x="296" y="198.2" font-size="7.2" fill="#404040" text-anchor="end">0</text>
<text x="296" y="180.5" font-size="7.2" fill="#404040" text-anchor="end">0.1</text>
<text x="296" y="162.8" font-size="7.2" fill="#404040" text-anchor="end">0.2</text>
<text x="296" y="145.1" font-size="7.2" fill="#404040" text-anchor="end">0.3</text>
<text x="296" y="127.4" font-size="7.2" fill="#404040" text-anchor="end">0.4</text>
<text x="296" y="109.6" font-size="7.2" fill="#404040" text-anchor="end">0.5</text>
<text x="296" y="91.9" font-size="7.2" fill="#404040" text-anchor="end">0.6</text>
<text x="296" y="74.2" font-size="7.2" fill="#404040" text-anchor="end">0.7</text>
<text x="296" y="56.5" font-size="7.2" fill="#404040" text-anchor="end">0.8</text>
<text x="296" y="38.8" font-size="7.2" fill="#404040" text-anchor="end">0.9</text>
<text x="296" y="21.1" font-size="7.2" fill="#404040" text-anchor="end">1</text>
<text x="375.8" y="217.1" font-size="11" fill="#111" textLength="89.8" lengthAdjust="spacingAndGlyphs">Doppler Frequency</text>
<text transform="translate(277.2 151.6) rotate(-90)" font-size="11" fill="#111" textLength="105.3" lengthAdjust="spacingAndGlyphs">Normalized Amplitude</text>
<rect x="386.4" y="155.3" width="70.2" height="37.1" fill="#fff" stroke="#333" stroke-width="0.8"/>
<line x1="390" y1="162.2" x2="413" y2="162.2" stroke="#ff4040" stroke-width="0.8"/>
<line x1="390" y1="173.8" x2="413" y2="173.8" stroke="#555" stroke-width="1.4"/>
<line x1="390" y1="185" x2="413" y2="185" stroke="#20e020" stroke-width="0.9" stroke-dasharray="1.2 0.6"/>
<text x="415.8" y="165" font-size="8.4" fill="#111" stroke="#111" stroke-width="0.25" textLength="37.6" lengthAdjust="spacingAndGlyphs">Real data</text>
<text x="415.8" y="176.6" font-size="8.4" fill="#111" stroke="#111" stroke-width="0.25" textLength="16.3" lengthAdjust="spacingAndGlyphs">FFT</text>
<text x="415.8" y="188" font-size="8.4" fill="#111" stroke="#111" stroke-width="0.25" textLength="24.2" lengthAdjust="spacingAndGlyphs">APES</text>
</g>
<path d="M325.01 378.93 L325.01 268.93" stroke="#6a6a6a" stroke-width="0.75" stroke-dasharray="1 2" fill="none"/>
<path d="M352.71 371.32 L352.71 261.32" stroke="#6a6a6a" stroke-width="0.75" stroke-dasharray="1 2" fill="none"/>
<path d="M380.41 363.71 L380.41 253.71" stroke="#6a6a6a" stroke-width="0.75" stroke-dasharray="1 2" fill="none"/>
<path d="M408.11 356.10 L408.11 246.10" stroke="#6a6a6a" stroke-width="0.75" stroke-dasharray="1 2" fill="none"/>
<path d="M435.81 348.49 L435.81 238.49" stroke="#6a6a6a" stroke-width="0.75" stroke-dasharray="1 2" fill="none"/>
<path d="M523.03 389.09 L523.03 279.09" stroke="#6a6a6a" stroke-width="0.75" stroke-dasharray="1 2" fill="none"/>
<path d="M501.86 379.11 L501.86 269.11" stroke="#6a6a6a" stroke-width="0.75" stroke-dasharray="1 2" fill="none"/>
<path d="M480.69 369.13 L480.69 259.13" stroke="#6a6a6a" stroke-width="0.75" stroke-dasharray="1 2" fill="none"/>
<path d="M459.52 359.15 L459.52 249.15" stroke="#6a6a6a" stroke-width="0.75" stroke-dasharray="1 2" fill="none"/>
<path d="M438.35 349.17 L438.35 239.17" stroke="#6a6a6a" stroke-width="0.75" stroke-dasharray="1 2" fill="none"/>
<path d="M298.90 364.10 L436.50 326.30 L543.40 376.70" stroke="#6a6a6a" stroke-width="0.75" stroke-dasharray="1 2" fill="none"/>
<path d="M298.90 342.10 L436.50 304.30 L543.40 354.70" stroke="#6a6a6a" stroke-width="0.75" stroke-dasharray="1 2" fill="none"/>
<path d="M298.90 320.10 L436.50 282.30 L543.40 332.70" stroke="#6a6a6a" stroke-width="0.75" stroke-dasharray="1 2" fill="none"/>
<path d="M298.90 298.10 L436.50 260.30 L543.40 310.70" stroke="#6a6a6a" stroke-width="0.75" stroke-dasharray="1 2" fill="none"/>
<path d="M298.90 276.10 L436.50 238.30 L543.40 288.70" stroke="#6a6a6a" stroke-width="0.75" stroke-dasharray="1 2" fill="none"/>
<path d="M434.70 348.30 L434.70 238.30" stroke="#6a6a6a" stroke-width="0.75" stroke-dasharray="1 2" fill="none"/>
<path d="M436.50 348.30 L436.50 238.30" stroke="#6a6a6a" stroke-width="0.75" stroke-dasharray="1 2" fill="none"/>
<path d="M298.90 386.10 L298.90 276.10" stroke="#505050" stroke-width="0.9"/>
<path d="M298.90 386.10 l-2.5 0.7" stroke="#505050" stroke-width="0.7"/>
<text x="294.4" y="388.7" font-size="8" fill="#404040" text-anchor="end">0</text>
<path d="M298.90 364.10 l-2.5 0.7" stroke="#505050" stroke-width="0.7"/>
<text x="294.4" y="366.7" font-size="8" fill="#404040" text-anchor="end">0.2</text>
<path d="M298.90 342.10 l-2.5 0.7" stroke="#505050" stroke-width="0.7"/>
<text x="294.4" y="344.7" font-size="8" fill="#404040" text-anchor="end">0.4</text>
<path d="M298.90 320.10 l-2.5 0.7" stroke="#505050" stroke-width="0.7"/>
<text x="294.4" y="322.7" font-size="8" fill="#404040" text-anchor="end">0.6</text>
<path d="M298.90 298.10 l-2.5 0.7" stroke="#505050" stroke-width="0.7"/>
<text x="294.4" y="300.7" font-size="8" fill="#404040" text-anchor="end">0.8</text>
<path d="M298.90 276.10 l-2.5 0.7" stroke="#505050" stroke-width="0.7"/>
<text x="294.4" y="278.7" font-size="8" fill="#404040" text-anchor="end">1</text>
<path d="M405.30 436.00 L543.40 398.70 L436.50 348.30 L298.90 386.10 Z" fill="url(#floor)"/>
<path d="M385.02 426.49 l-3 0.8" stroke="#505050" stroke-width="0.6"/>
<text x="372.7" y="436.1" font-size="8.3" fill="#3a3a3a" text-anchor="middle">40</text>
<path d="M363.95 416.61 l-3 0.8" stroke="#505050" stroke-width="0.6"/>
<text x="351.7" y="426.2" font-size="8.3" fill="#3a3a3a" text-anchor="middle">80</text>
<path d="M342.88 406.73 l-3 0.8" stroke="#505050" stroke-width="0.6"/>
<text x="330.6" y="416.3" font-size="8.3" fill="#3a3a3a" text-anchor="middle">120</text>
<path d="M321.81 396.85 l-3 0.8" stroke="#505050" stroke-width="0.6"/>
<text x="309.5" y="406.4" font-size="8.3" fill="#3a3a3a" text-anchor="middle">160</text>
<path d="M300.74 386.96 l-3 0.8" stroke="#505050" stroke-width="0.6"/>
<text x="288.4" y="396.6" font-size="8.3" fill="#3a3a3a" text-anchor="middle">200</text>
<path d="M431.50 428.92 l2.5 0.7" stroke="#505050" stroke-width="0.6"/>
<text x="440.7" y="438.7" font-size="8.3" fill="#3a3a3a" text-anchor="middle">40</text>
<path d="M459.30 421.41 l2.5 0.7" stroke="#505050" stroke-width="0.6"/>
<text x="468.5" y="431.2" font-size="8.3" fill="#3a3a3a" text-anchor="middle">80</text>
<path d="M487.10 413.91 l2.5 0.7" stroke="#505050" stroke-width="0.6"/>
<text x="496.3" y="423.7" font-size="8.3" fill="#3a3a3a" text-anchor="middle">120</text>
<path d="M514.90 406.40 l2.5 0.7" stroke="#505050" stroke-width="0.6"/>
<text x="524.1" y="416.2" font-size="8.3" fill="#3a3a3a" text-anchor="middle">160</text>
<path d="M542.70 398.89 l2.5 0.7" stroke="#505050" stroke-width="0.6"/>
<text x="551.9" y="408.7" font-size="8.3" fill="#3a3a3a" text-anchor="middle">200</text>
<text x="307.6" y="450.2" font-size="11" fill="#111" textLength="40.6" lengthAdjust="spacingAndGlyphs">Azimuth</text>
<text x="468.0" y="452.4" font-size="11" fill="#111" textLength="32.3" lengthAdjust="spacingAndGlyphs">Range</text>
<text transform="translate(278.2 389.0) rotate(-90)" font-size="11" fill="#111" textLength="109.3" lengthAdjust="spacingAndGlyphs">Normalized Amplitude</text>
<path d="M386.40 319.40 L386.40 346.00" stroke="#303030" stroke-width="1.3"/>
<path d="M386.40 346.00 L386.40 401.00" stroke="#fafafa" stroke-width="1.4"/>
<path d="M421.20 282.40 L421.20 351.50" stroke="#8c8c8c" stroke-width="1.3"/>
<path d="M421.20 301.00 L421.20 307.00" stroke="#2a2a2a" stroke-width="1.2"/>
<path d="M421.20 351.50 L421.20 392.30" stroke="#fafafa" stroke-width="1.4"/>
<path d="M421.2 338 L421.2 352" stroke="#b8b8b8" stroke-width="1.4"/>
<path d="M455.50 338.70 L455.50 362.00" stroke="#3a3a3a" stroke-width="1.3"/>
<path d="M455.50 362.00 L455.50 381.60" stroke="#fafafa" stroke-width="1.4"/>
<text x="383.2" y="417" font-size="12.5" fill="#fff" stroke="#333" stroke-width="0.15" textLength="11.8" lengthAdjust="spacingAndGlyphs">T2</text>
<text x="418.6" y="407.3" font-size="12.5" fill="#fff" stroke="#333" stroke-width="0.15" textLength="11.2" lengthAdjust="spacingAndGlyphs">T1</text>
<text x="454" y="398.3" font-size="12.5" fill="#fff" stroke="#333" stroke-width="0.15" textLength="11.8" lengthAdjust="spacingAndGlyphs">T3</text>
<path d="M331.31 612.93 L331.31 504.73" stroke="#6a6a6a" stroke-width="0.75" stroke-dasharray="1 2" fill="none"/>
<path d="M359.01 605.32 L359.01 497.12" stroke="#6a6a6a" stroke-width="0.75" stroke-dasharray="1 2" fill="none"/>
<path d="M386.71 597.71 L386.71 489.51" stroke="#6a6a6a" stroke-width="0.75" stroke-dasharray="1 2" fill="none"/>
<path d="M414.41 590.10 L414.41 481.90" stroke="#6a6a6a" stroke-width="0.75" stroke-dasharray="1 2" fill="none"/>
<path d="M442.11 582.49 L442.11 474.29" stroke="#6a6a6a" stroke-width="0.75" stroke-dasharray="1 2" fill="none"/>
<path d="M529.33 623.09 L529.33 514.89" stroke="#6a6a6a" stroke-width="0.75" stroke-dasharray="1 2" fill="none"/>
<path d="M508.16 613.11 L508.16 504.91" stroke="#6a6a6a" stroke-width="0.75" stroke-dasharray="1 2" fill="none"/>
<path d="M486.99 603.13 L486.99 494.93" stroke="#6a6a6a" stroke-width="0.75" stroke-dasharray="1 2" fill="none"/>
<path d="M465.82 593.15 L465.82 484.95" stroke="#6a6a6a" stroke-width="0.75" stroke-dasharray="1 2" fill="none"/>
<path d="M444.65 583.17 L444.65 474.97" stroke="#6a6a6a" stroke-width="0.75" stroke-dasharray="1 2" fill="none"/>
<path d="M305.20 598.46 L442.80 560.66 L549.70 611.06" stroke="#6a6a6a" stroke-width="0.75" stroke-dasharray="1 2" fill="none"/>
<path d="M305.20 576.82 L442.80 539.02 L549.70 589.42" stroke="#6a6a6a" stroke-width="0.75" stroke-dasharray="1 2" fill="none"/>
<path d="M305.20 555.18 L442.80 517.38 L549.70 567.78" stroke="#6a6a6a" stroke-width="0.75" stroke-dasharray="1 2" fill="none"/>
<path d="M305.20 533.54 L442.80 495.74 L549.70 546.14" stroke="#6a6a6a" stroke-width="0.75" stroke-dasharray="1 2" fill="none"/>
<path d="M305.20 511.90 L442.80 474.10 L549.70 524.50" stroke="#6a6a6a" stroke-width="0.75" stroke-dasharray="1 2" fill="none"/>
<path d="M441.00 582.30 L441.00 474.10" stroke="#6a6a6a" stroke-width="0.75" stroke-dasharray="1 2" fill="none"/>
<path d="M442.80 582.30 L442.80 474.10" stroke="#6a6a6a" stroke-width="0.75" stroke-dasharray="1 2" fill="none"/>
<path d="M305.20 620.10 L305.20 511.90" stroke="#505050" stroke-width="0.9"/>
<path d="M305.20 620.10 l-2.5 0.7" stroke="#505050" stroke-width="0.7"/>
<path d="M305.20 598.46 l-2.5 0.7" stroke="#505050" stroke-width="0.7"/>
<text x="300.7" y="601.1" font-size="8" fill="#404040" text-anchor="end">0.2</text>
<path d="M305.20 576.82 l-2.5 0.7" stroke="#505050" stroke-width="0.7"/>
<text x="300.7" y="579.4" font-size="8" fill="#404040" text-anchor="end">0.4</text>
<path d="M305.20 555.18 l-2.5 0.7" stroke="#505050" stroke-width="0.7"/>
<text x="300.7" y="557.8" font-size="8" fill="#404040" text-anchor="end">0.6</text>
<path d="M305.20 533.54 l-2.5 0.7" stroke="#505050" stroke-width="0.7"/>
<text x="300.7" y="536.1" font-size="8" fill="#404040" text-anchor="end">0.8</text>
<path d="M305.20 511.90 l-2.5 0.7" stroke="#505050" stroke-width="0.7"/>
<text x="300.7" y="514.5" font-size="8" fill="#404040" text-anchor="end">1</text>
<path d="M411.60 670.00 L549.70 632.70 L442.80 582.30 L305.20 620.10 Z" fill="url(#floor)"/>
<path d="M391.32 660.49 l-3 0.8" stroke="#505050" stroke-width="0.6"/>
<text x="379.0" y="670.1" font-size="8.3" fill="#3a3a3a" text-anchor="middle">40</text>
<path d="M370.25 650.61 l-3 0.8" stroke="#505050" stroke-width="0.6"/>
<text x="358.0" y="660.2" font-size="8.3" fill="#3a3a3a" text-anchor="middle">80</text>
<path d="M349.18 640.73 l-3 0.8" stroke="#505050" stroke-width="0.6"/>
<text x="336.9" y="650.3" font-size="8.3" fill="#3a3a3a" text-anchor="middle">120</text>
<path d="M328.11 630.85 l-3 0.8" stroke="#505050" stroke-width="0.6"/>
<text x="315.8" y="640.4" font-size="8.3" fill="#3a3a3a" text-anchor="middle">160</text>
<path d="M307.04 620.96 l-3 0.8" stroke="#505050" stroke-width="0.6"/>
<text x="294.7" y="630.6" font-size="8.3" fill="#3a3a3a" text-anchor="middle">200</text>
<path d="M437.80 662.92 l2.5 0.7" stroke="#505050" stroke-width="0.6"/>
<text x="447.0" y="672.7" font-size="8.3" fill="#3a3a3a" text-anchor="middle">40</text>
<path d="M465.60 655.41 l2.5 0.7" stroke="#505050" stroke-width="0.6"/>
<text x="474.8" y="665.2" font-size="8.3" fill="#3a3a3a" text-anchor="middle">80</text>
<path d="M493.40 647.91 l2.5 0.7" stroke="#505050" stroke-width="0.6"/>
<text x="502.6" y="657.7" font-size="8.3" fill="#3a3a3a" text-anchor="middle">120</text>
<path d="M521.20 640.40 l2.5 0.7" stroke="#505050" stroke-width="0.6"/>
<text x="530.4" y="650.2" font-size="8.3" fill="#3a3a3a" text-anchor="middle">160</text>
<path d="M549.00 632.89 l2.5 0.7" stroke="#505050" stroke-width="0.6"/>
<text x="558.2" y="642.7" font-size="8.3" fill="#3a3a3a" text-anchor="middle">200</text>
<text x="313.9" y="684.2" font-size="11" fill="#111" textLength="40.6" lengthAdjust="spacingAndGlyphs">Azimuth</text>
<text x="474.3" y="686.4" font-size="11" fill="#111" textLength="32.3" lengthAdjust="spacingAndGlyphs">Range</text>
<text transform="translate(284.5 623.0) rotate(-90)" font-size="11" fill="#111" textLength="109.3" lengthAdjust="spacingAndGlyphs">Normalized Amplitude</text>
<path d="M366.4 623 L375 619 L381.2 617.7 L390.8 616.7 L395 618.8 L404.5 634.7 L413 644.2 L407.7 643.2 L400.3 636.8 L386.5 630.5 L375.9 626.2 Z" fill="#a2a2a2"/>
<path d="M383.3 618.8 L395 634.7 M388.6 617.7 L402.4 636.8 M395 619.8 L406.7 638.9 M397.1 622 L410.9 643.2" stroke="#f0f0f0" stroke-width="0.8"/>
<path d="M376 619.5 L389 632 M391.8 618 L404.6 637.8" stroke="#707070" stroke-width="0.6"/>
<path d="M350 615 L366.4 623 L386.5 630.5 L413 647.4 L428 654 M395 618.8 L428 624 L455 621" stroke="#c8c8c8" stroke-width="0.5" fill="none" opacity="0.8"/>
<path d="M457.5 618.6 L460.5 600 L461.8 589.3 L463.5 600 L466.5 618.6 Z" fill="#a8a8a8"/>
<path d="M463 596 L465 612 L468.5 619 M460 605 L459 617" stroke="#f0f0f0" stroke-width="0.7" fill="none"/>
<path d="M427.60 516.20 L427.60 566.00" stroke="#8c8c8c" stroke-width="1.3"/>
<path d="M427.60 532.00 L427.60 549.00" stroke="#2a2a2a" stroke-width="1.2"/>
<path d="M426.85 566.00 L426.85 624.80 M428.35 566.00 L428.35 624.80" stroke="#f8f8f8" stroke-width="0.8"/>
<path d="M427.60 566.00 L427.60 624.80" stroke="#a0a0a0" stroke-width="0.5"/>
<path d="M422.5 621 L425 624.8 L427.6 619 L430.2 624.8 L432.7 621" stroke="#f0f0f0" stroke-width="0.7" fill="none"/>
<text x="388.6" y="652.7" font-size="12.5" fill="#fff" stroke="#333" stroke-width="0.15" textLength="10.8" lengthAdjust="spacingAndGlyphs">T2</text>
<text x="425.7" y="642.1" font-size="12.5" fill="#fff" stroke="#333" stroke-width="0.15" textLength="9.2" lengthAdjust="spacingAndGlyphs">T1</text>
<text x="457.3" y="631.2" font-size="12.5" fill="#fff" stroke="#333" stroke-width="0.15" textLength="10.9" lengthAdjust="spacingAndGlyphs">T3</text>
<text x="117.8" y="234.4" font-size="16" fill="#000">(a)</text>
<text x="412.6" y="234.4" font-size="16" fill="#000">(b)</text>
<text x="117.9" y="467.8" font-size="16" fill="#000">(c)</text>
<text x="413" y="468.4" font-size="16" fill="#000">(d)</text>
<text x="117.9" y="696" font-size="16" fill="#000">(e)</text>
<text x="413" y="696.5" font-size="16" fill="#000">(f)</text>
</svg>
</body></html>
